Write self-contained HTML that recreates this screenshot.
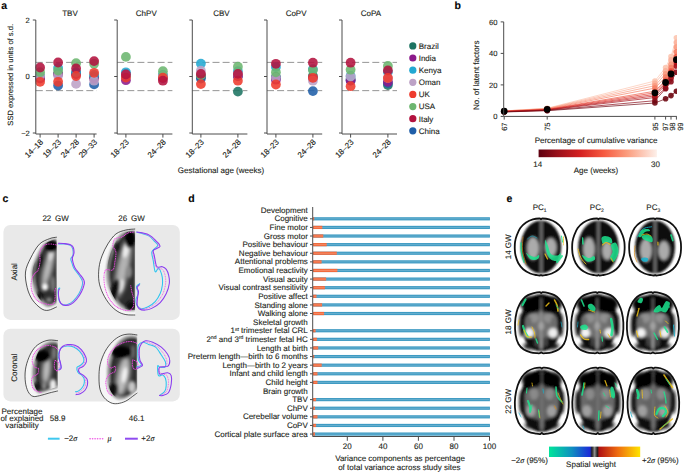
<!DOCTYPE html>
<html><head><meta charset="utf-8"><style>
html,body{margin:0;padding:0;background:#fff;width:685px;height:472px;overflow:hidden}
svg{display:block;font-family:"Liberation Sans", sans-serif;text-rendering:geometricPrecision}
text{stroke:#231f20;stroke-width:0.12px}
</style></head><body>
<svg width="685" height="472" viewBox="0 0 685 472">
<defs>
<clipPath id="clipb"><rect x="440" y="0" width="237" height="180"/></clipPath>
<linearGradient id="gradReds" x1="0" x2="1" y1="0" y2="0">
<stop offset="0" stop-color="#5e0010"/><stop offset="0.15" stop-color="#96101a"/><stop offset="0.35" stop-color="#d42020"/>
<stop offset="0.55" stop-color="#f65a40"/><stop offset="0.75" stop-color="#fb9d7e"/><stop offset="1" stop-color="#fdf0ea"/></linearGradient>
<linearGradient id="gradSW" x1="0" x2="1" y1="0" y2="0">
<stop offset="0" stop-color="#00e59a"/><stop offset="0.25" stop-color="#0f8fc0"/><stop offset="0.45" stop-color="#1c2ad8"/>
<stop offset="0.47" stop-color="#202020"/><stop offset="0.5" stop-color="#909090"/><stop offset="0.53" stop-color="#202020"/>
<stop offset="0.55" stop-color="#b01212"/><stop offset="0.75" stop-color="#ee6a10"/><stop offset="1" stop-color="#ffe400"/></linearGradient>
</defs>
<text x="1.2" y="8.8" font-size="10.5" text-anchor="start" font-weight="bold" fill="#000" >a</text>
<text x="70" y="15.5" font-size="8" text-anchor="middle" font-weight="normal" fill="#231f20" >TBV</text>
<line x1="35.8" y1="62.375" x2="96.6" y2="62.375" stroke="#8a8a8a" stroke-width="0.9" stroke-dasharray="7 3.1"/>
<line x1="35.8" y1="90.625" x2="96.6" y2="90.625" stroke="#8a8a8a" stroke-width="0.9" stroke-dasharray="7 3.1"/>
<circle cx="40.1" cy="78" r="4.9" fill="#1f5ea8" fill-opacity="0.88"/>
<circle cx="40.1" cy="77" r="4.9" fill="#1d7462" fill-opacity="0.88"/>
<circle cx="40.1" cy="76" r="4.9" fill="#22a8d2" fill-opacity="0.88"/>
<circle cx="40.1" cy="78.5" r="4.9" fill="#8b1a8b" fill-opacity="0.88"/>
<circle cx="40.1" cy="76" r="4.9" fill="#bda2c6" fill-opacity="0.88"/>
<circle cx="40.1" cy="72.2" r="4.9" fill="#6cb670" fill-opacity="0.88"/>
<circle cx="40.1" cy="81.8" r="4.9" fill="#ee3b2d" fill-opacity="0.88"/>
<circle cx="40.1" cy="67.5" r="4.9" fill="#b3123f" fill-opacity="0.88"/>
<circle cx="58.1" cy="85.5" r="4.9" fill="#1f5ea8" fill-opacity="0.88"/>
<circle cx="58.1" cy="74" r="4.9" fill="#1d7462" fill-opacity="0.88"/>
<circle cx="58.1" cy="74" r="4.9" fill="#8b1a8b" fill-opacity="0.88"/>
<circle cx="58.1" cy="68" r="4.9" fill="#22a8d2" fill-opacity="0.88"/>
<circle cx="58.1" cy="75.4" r="4.9" fill="#bda2c6" fill-opacity="0.88"/>
<circle cx="58.1" cy="70.6" r="4.9" fill="#6cb670" fill-opacity="0.88"/>
<circle cx="58.1" cy="81.8" r="4.9" fill="#ee3b2d" fill-opacity="0.88"/>
<circle cx="58.1" cy="62.5" r="4.9" fill="#b3123f" fill-opacity="0.88"/>
<circle cx="76.1" cy="74" r="4.9" fill="#1f5ea8" fill-opacity="0.88"/>
<circle cx="76.1" cy="73" r="4.9" fill="#1d7462" fill-opacity="0.88"/>
<circle cx="76.1" cy="74" r="4.9" fill="#8b1a8b" fill-opacity="0.88"/>
<circle cx="76.1" cy="72.2" r="4.9" fill="#22a8d2" fill-opacity="0.88"/>
<circle cx="76.1" cy="83.9" r="4.9" fill="#bda2c6" fill-opacity="0.88"/>
<circle cx="76.1" cy="63.2" r="4.9" fill="#6cb670" fill-opacity="0.88"/>
<circle cx="76.1" cy="68.5" r="4.9" fill="#b3123f" fill-opacity="0.88"/>
<circle cx="76.1" cy="76" r="4.9" fill="#ee3b2d" fill-opacity="0.88"/>
<circle cx="94.1" cy="84.4" r="4.9" fill="#1f5ea8" fill-opacity="0.88"/>
<circle cx="94.1" cy="77" r="4.9" fill="#1d7462" fill-opacity="0.88"/>
<circle cx="94.1" cy="78.6" r="4.9" fill="#8b1a8b" fill-opacity="0.88"/>
<circle cx="94.1" cy="74.9" r="4.9" fill="#22a8d2" fill-opacity="0.88"/>
<circle cx="94.1" cy="80.7" r="4.9" fill="#bda2c6" fill-opacity="0.88"/>
<circle cx="94.1" cy="63.8" r="4.9" fill="#6cb670" fill-opacity="0.88"/>
<circle cx="94.1" cy="72.8" r="4.9" fill="#ee3b2d" fill-opacity="0.88"/>
<circle cx="94.1" cy="61.1" r="4.9" fill="#b3123f" fill-opacity="0.88"/>
<path d="M35.8 20 V134 H96.6" fill="none" stroke="#4d4d4d" stroke-width="1"/>
<line x1="32.8" y1="20.0" x2="35.8" y2="20.0" stroke="#4d4d4d" stroke-width="1"/>
<line x1="32.8" y1="76.5" x2="35.8" y2="76.5" stroke="#4d4d4d" stroke-width="1"/>
<line x1="32.8" y1="133.0" x2="35.8" y2="133.0" stroke="#4d4d4d" stroke-width="1"/>
<line x1="40.1" y1="134" x2="40.1" y2="137.6" stroke="#4d4d4d" stroke-width="1"/>
<text transform="translate(43.7,142.6) rotate(-45)" font-size="8" text-anchor="end" fill="#231f20">14–18</text>
<line x1="58.1" y1="134" x2="58.1" y2="137.6" stroke="#4d4d4d" stroke-width="1"/>
<text transform="translate(61.7,142.6) rotate(-45)" font-size="8" text-anchor="end" fill="#231f20">19–23</text>
<line x1="76.1" y1="134" x2="76.1" y2="137.6" stroke="#4d4d4d" stroke-width="1"/>
<text transform="translate(79.69999999999999,142.6) rotate(-45)" font-size="8" text-anchor="end" fill="#231f20">24–28</text>
<line x1="94.1" y1="134" x2="94.1" y2="137.6" stroke="#4d4d4d" stroke-width="1"/>
<text transform="translate(97.69999999999999,142.6) rotate(-45)" font-size="8" text-anchor="end" fill="#231f20">29–33</text>
<text x="146.3" y="15.5" font-size="8" text-anchor="middle" font-weight="normal" fill="#231f20" >ChPV</text>
<line x1="117.2" y1="62.375" x2="172.4" y2="62.375" stroke="#8a8a8a" stroke-width="0.9" stroke-dasharray="7 3.1"/>
<line x1="117.2" y1="90.625" x2="172.4" y2="90.625" stroke="#8a8a8a" stroke-width="0.9" stroke-dasharray="7 3.1"/>
<circle cx="125.9" cy="74" r="4.9" fill="#1f5ea8" fill-opacity="0.88"/>
<circle cx="125.9" cy="76" r="4.9" fill="#1d7462" fill-opacity="0.88"/>
<circle cx="125.9" cy="80.2" r="4.9" fill="#8b1a8b" fill-opacity="0.88"/>
<circle cx="125.9" cy="72.3" r="4.9" fill="#22a8d2" fill-opacity="0.88"/>
<circle cx="125.9" cy="75" r="4.9" fill="#bda2c6" fill-opacity="0.88"/>
<circle cx="125.9" cy="56.9" r="4.9" fill="#6cb670" fill-opacity="0.88"/>
<circle cx="125.9" cy="77.6" r="4.9" fill="#ee3b2d" fill-opacity="0.88"/>
<circle cx="125.9" cy="74.5" r="4.9" fill="#b3123f" fill-opacity="0.88"/>
<circle cx="162.9" cy="76" r="4.9" fill="#1f5ea8" fill-opacity="0.88"/>
<circle cx="162.9" cy="77" r="4.9" fill="#1d7462" fill-opacity="0.88"/>
<circle cx="162.9" cy="78" r="4.9" fill="#8b1a8b" fill-opacity="0.88"/>
<circle cx="162.9" cy="74.9" r="4.9" fill="#22a8d2" fill-opacity="0.88"/>
<circle cx="162.9" cy="76" r="4.9" fill="#bda2c6" fill-opacity="0.88"/>
<circle cx="162.9" cy="71.2" r="4.9" fill="#6cb670" fill-opacity="0.88"/>
<circle cx="162.9" cy="77.6" r="4.9" fill="#ee3b2d" fill-opacity="0.88"/>
<circle cx="162.9" cy="80.7" r="4.9" fill="#b3123f" fill-opacity="0.88"/>
<path d="M117.2 20 V134 H172.4" fill="none" stroke="#4d4d4d" stroke-width="1"/>
<line x1="114.2" y1="20.0" x2="117.2" y2="20.0" stroke="#4d4d4d" stroke-width="1"/>
<line x1="114.2" y1="76.5" x2="117.2" y2="76.5" stroke="#4d4d4d" stroke-width="1"/>
<line x1="114.2" y1="133.0" x2="117.2" y2="133.0" stroke="#4d4d4d" stroke-width="1"/>
<line x1="125.9" y1="134" x2="125.9" y2="137.6" stroke="#4d4d4d" stroke-width="1"/>
<text transform="translate(129.5,142.6) rotate(-45)" font-size="8" text-anchor="end" fill="#231f20">18–23</text>
<line x1="162.9" y1="134" x2="162.9" y2="137.6" stroke="#4d4d4d" stroke-width="1"/>
<text transform="translate(166.5,142.6) rotate(-45)" font-size="8" text-anchor="end" fill="#231f20">24–28</text>
<text x="221.4" y="15.5" font-size="8" text-anchor="middle" font-weight="normal" fill="#231f20" >CBV</text>
<line x1="192.3" y1="62.375" x2="247.4" y2="62.375" stroke="#8a8a8a" stroke-width="0.9" stroke-dasharray="7 3.1"/>
<line x1="192.3" y1="90.625" x2="247.4" y2="90.625" stroke="#8a8a8a" stroke-width="0.9" stroke-dasharray="7 3.1"/>
<circle cx="200.9" cy="77" r="4.9" fill="#1d7462" fill-opacity="0.88"/>
<circle cx="200.9" cy="76" r="4.9" fill="#8b1a8b" fill-opacity="0.88"/>
<circle cx="200.9" cy="78.6" r="4.9" fill="#1f5ea8" fill-opacity="0.88"/>
<circle cx="200.9" cy="75.4" r="4.9" fill="#6cb670" fill-opacity="0.88"/>
<circle cx="200.9" cy="63.6" r="4.9" fill="#22a8d2" fill-opacity="0.88"/>
<circle cx="200.9" cy="70.7" r="4.9" fill="#bda2c6" fill-opacity="0.88"/>
<circle cx="200.9" cy="84.1" r="4.9" fill="#ee3b2d" fill-opacity="0.88"/>
<circle cx="200.9" cy="73.9" r="4.9" fill="#b3123f" fill-opacity="0.88"/>
<circle cx="237.9" cy="91.6" r="4.9" fill="#1d7462" fill-opacity="0.88"/>
<circle cx="237.9" cy="76" r="4.9" fill="#1f5ea8" fill-opacity="0.88"/>
<circle cx="237.9" cy="76" r="4.9" fill="#8b1a8b" fill-opacity="0.88"/>
<circle cx="237.9" cy="71.2" r="4.9" fill="#22a8d2" fill-opacity="0.88"/>
<circle cx="237.9" cy="74" r="4.9" fill="#bda2c6" fill-opacity="0.88"/>
<circle cx="237.9" cy="66.7" r="4.9" fill="#6cb670" fill-opacity="0.88"/>
<circle cx="237.9" cy="80.7" r="4.9" fill="#ee3b2d" fill-opacity="0.88"/>
<circle cx="237.9" cy="73.9" r="4.9" fill="#b3123f" fill-opacity="0.88"/>
<path d="M192.3 20 V134 H247.4" fill="none" stroke="#4d4d4d" stroke-width="1"/>
<line x1="189.3" y1="20.0" x2="192.3" y2="20.0" stroke="#4d4d4d" stroke-width="1"/>
<line x1="189.3" y1="76.5" x2="192.3" y2="76.5" stroke="#4d4d4d" stroke-width="1"/>
<line x1="189.3" y1="133.0" x2="192.3" y2="133.0" stroke="#4d4d4d" stroke-width="1"/>
<line x1="200.9" y1="134" x2="200.9" y2="137.6" stroke="#4d4d4d" stroke-width="1"/>
<text transform="translate(204.5,142.6) rotate(-45)" font-size="8" text-anchor="end" fill="#231f20">18–23</text>
<line x1="237.9" y1="134" x2="237.9" y2="137.6" stroke="#4d4d4d" stroke-width="1"/>
<text transform="translate(241.5,142.6) rotate(-45)" font-size="8" text-anchor="end" fill="#231f20">24–28</text>
<text x="296.1" y="15.5" font-size="8" text-anchor="middle" font-weight="normal" fill="#231f20" >CoPV</text>
<line x1="267.0" y1="62.375" x2="322.2" y2="62.375" stroke="#8a8a8a" stroke-width="0.9" stroke-dasharray="7 3.1"/>
<line x1="267.0" y1="90.625" x2="322.2" y2="90.625" stroke="#8a8a8a" stroke-width="0.9" stroke-dasharray="7 3.1"/>
<circle cx="275.9" cy="77" r="4.9" fill="#1d7462" fill-opacity="0.88"/>
<circle cx="275.9" cy="78" r="4.9" fill="#1f5ea8" fill-opacity="0.88"/>
<circle cx="275.9" cy="79.7" r="4.9" fill="#8b1a8b" fill-opacity="0.88"/>
<circle cx="275.9" cy="67" r="4.9" fill="#22a8d2" fill-opacity="0.88"/>
<circle cx="275.9" cy="77.6" r="4.9" fill="#bda2c6" fill-opacity="0.88"/>
<circle cx="275.9" cy="72.3" r="4.9" fill="#6cb670" fill-opacity="0.88"/>
<circle cx="275.9" cy="84.5" r="4.9" fill="#ee3b2d" fill-opacity="0.88"/>
<circle cx="275.9" cy="63.8" r="4.9" fill="#b3123f" fill-opacity="0.88"/>
<circle cx="312.9" cy="91.1" r="4.9" fill="#1f5ea8" fill-opacity="0.88"/>
<circle cx="312.9" cy="76" r="4.9" fill="#1d7462" fill-opacity="0.88"/>
<circle cx="312.9" cy="78" r="4.9" fill="#8b1a8b" fill-opacity="0.88"/>
<circle cx="312.9" cy="69.1" r="4.9" fill="#22a8d2" fill-opacity="0.88"/>
<circle cx="312.9" cy="80.7" r="4.9" fill="#bda2c6" fill-opacity="0.88"/>
<circle cx="312.9" cy="70.1" r="4.9" fill="#6cb670" fill-opacity="0.88"/>
<circle cx="312.9" cy="77.8" r="4.9" fill="#ee3b2d" fill-opacity="0.88"/>
<circle cx="312.9" cy="62.7" r="4.9" fill="#b3123f" fill-opacity="0.88"/>
<path d="M267.0 20 V134 H322.2" fill="none" stroke="#4d4d4d" stroke-width="1"/>
<line x1="264.0" y1="20.0" x2="267.0" y2="20.0" stroke="#4d4d4d" stroke-width="1"/>
<line x1="264.0" y1="76.5" x2="267.0" y2="76.5" stroke="#4d4d4d" stroke-width="1"/>
<line x1="264.0" y1="133.0" x2="267.0" y2="133.0" stroke="#4d4d4d" stroke-width="1"/>
<line x1="275.9" y1="134" x2="275.9" y2="137.6" stroke="#4d4d4d" stroke-width="1"/>
<text transform="translate(279.5,142.6) rotate(-45)" font-size="8" text-anchor="end" fill="#231f20">18–23</text>
<line x1="312.9" y1="134" x2="312.9" y2="137.6" stroke="#4d4d4d" stroke-width="1"/>
<text transform="translate(316.5,142.6) rotate(-45)" font-size="8" text-anchor="end" fill="#231f20">24–28</text>
<text x="371.0" y="15.5" font-size="8" text-anchor="middle" font-weight="normal" fill="#231f20" >CoPA</text>
<line x1="342.0" y1="62.375" x2="397.0" y2="62.375" stroke="#8a8a8a" stroke-width="0.9" stroke-dasharray="7 3.1"/>
<line x1="342.0" y1="90.625" x2="397.0" y2="90.625" stroke="#8a8a8a" stroke-width="0.9" stroke-dasharray="7 3.1"/>
<circle cx="350.6" cy="79" r="4.9" fill="#1d7462" fill-opacity="0.88"/>
<circle cx="350.6" cy="80.5" r="4.9" fill="#1f5ea8" fill-opacity="0.88"/>
<circle cx="350.6" cy="80.5" r="4.9" fill="#8b1a8b" fill-opacity="0.88"/>
<circle cx="350.6" cy="76" r="4.9" fill="#22a8d2" fill-opacity="0.88"/>
<circle cx="350.6" cy="76.5" r="4.9" fill="#bda2c6" fill-opacity="0.88"/>
<circle cx="350.6" cy="69.7" r="4.9" fill="#6cb670" fill-opacity="0.88"/>
<circle cx="350.6" cy="86.2" r="4.9" fill="#ee3b2d" fill-opacity="0.88"/>
<circle cx="350.6" cy="62.7" r="4.9" fill="#b3123f" fill-opacity="0.88"/>
<circle cx="387.9" cy="85" r="4.9" fill="#1d7462" fill-opacity="0.88"/>
<circle cx="387.9" cy="83" r="4.9" fill="#1f5ea8" fill-opacity="0.88"/>
<circle cx="387.9" cy="81.8" r="4.9" fill="#8b1a8b" fill-opacity="0.88"/>
<circle cx="387.9" cy="72" r="4.9" fill="#22a8d2" fill-opacity="0.88"/>
<circle cx="387.9" cy="78" r="4.9" fill="#bda2c6" fill-opacity="0.88"/>
<circle cx="387.9" cy="65.9" r="4.9" fill="#6cb670" fill-opacity="0.88"/>
<circle cx="387.9" cy="70.4" r="4.9" fill="#b3123f" fill-opacity="0.88"/>
<circle cx="387.9" cy="78" r="4.9" fill="#ee3b2d" fill-opacity="0.88"/>
<path d="M342.0 20 V134 H397.0" fill="none" stroke="#4d4d4d" stroke-width="1"/>
<line x1="339.0" y1="20.0" x2="342.0" y2="20.0" stroke="#4d4d4d" stroke-width="1"/>
<line x1="339.0" y1="76.5" x2="342.0" y2="76.5" stroke="#4d4d4d" stroke-width="1"/>
<line x1="339.0" y1="133.0" x2="342.0" y2="133.0" stroke="#4d4d4d" stroke-width="1"/>
<line x1="350.6" y1="134" x2="350.6" y2="137.6" stroke="#4d4d4d" stroke-width="1"/>
<text transform="translate(354.20000000000005,142.6) rotate(-45)" font-size="8" text-anchor="end" fill="#231f20">18–23</text>
<line x1="387.9" y1="134" x2="387.9" y2="137.6" stroke="#4d4d4d" stroke-width="1"/>
<text transform="translate(391.5,142.6) rotate(-45)" font-size="8" text-anchor="end" fill="#231f20">24–28</text>
<text x="29.8" y="23" font-size="7.6" text-anchor="end" font-weight="normal" fill="#231f20" >2</text>
<text x="29.8" y="79.3" font-size="7.6" text-anchor="end" font-weight="normal" fill="#231f20" >0</text>
<text x="29.8" y="135.8" font-size="7.6" text-anchor="end" font-weight="normal" fill="#231f20" >−2</text>
<text transform="translate(13.2,74.8) rotate(-90)" font-size="7.6" text-anchor="middle" fill="#231f20">SSD expressed in units of s.d.</text>
<text x="221" y="172.8" font-size="8" text-anchor="middle" font-weight="normal" fill="#231f20" >Gestational age (weeks)</text>
<circle cx="412.8" cy="45.9" r="3.6" fill="#1d7462"/>
<text x="418.7" y="48.7" font-size="8" text-anchor="start" font-weight="normal" fill="#231f20" >Brazil</text>
<circle cx="412.8" cy="58.0" r="3.6" fill="#8b1a8b"/>
<text x="418.7" y="60.8" font-size="8" text-anchor="start" font-weight="normal" fill="#231f20" >India</text>
<circle cx="412.8" cy="70.2" r="3.6" fill="#22a8d2"/>
<text x="418.7" y="73.0" font-size="8" text-anchor="start" font-weight="normal" fill="#231f20" >Kenya</text>
<circle cx="412.8" cy="82.3" r="3.6" fill="#bda2c6"/>
<text x="418.7" y="85.1" font-size="8" text-anchor="start" font-weight="normal" fill="#231f20" >Oman</text>
<circle cx="412.8" cy="94.4" r="3.6" fill="#ee3b2d"/>
<text x="418.7" y="97.2" font-size="8" text-anchor="start" font-weight="normal" fill="#231f20" >UK</text>
<circle cx="412.8" cy="106.6" r="3.6" fill="#6cb670"/>
<text x="418.7" y="109.4" font-size="8" text-anchor="start" font-weight="normal" fill="#231f20" >USA</text>
<circle cx="412.8" cy="118.7" r="3.6" fill="#b3123f"/>
<text x="418.7" y="121.5" font-size="8" text-anchor="start" font-weight="normal" fill="#231f20" >Italy</text>
<circle cx="412.8" cy="130.8" r="3.6" fill="#1f5ea8"/>
<text x="418.7" y="133.6" font-size="8" text-anchor="start" font-weight="normal" fill="#231f20" >China</text>
<text x="454.6" y="8.7" font-size="10.5" text-anchor="start" font-weight="bold" fill="#000" >b</text>
<g clip-path="url(#clipb)">
<polyline points="504.2,110.9 547.2,108.2 654.9,81.0 665.6,67.6 671.0,56.6 676.4,37.7" fill="none" stroke="#fcc5b0" stroke-width="0.7"/>
<polyline points="504.2,111.0 547.2,108.5 654.9,83.3 665.6,70.7 671.0,59.7 676.4,42.4" fill="none" stroke="#fbb09a" stroke-width="0.7"/>
<polyline points="504.2,111.0 547.2,108.7 654.9,85.7 665.6,73.9 671.0,64.4 676.4,47.1" fill="none" stroke="#f99a80" stroke-width="0.7"/>
<polyline points="504.2,111.2 547.2,109.0 654.9,88.1 665.6,77.0 671.0,67.6 676.4,51.8" fill="none" stroke="#f57f65" stroke-width="0.7"/>
<polyline points="504.2,111.4 547.2,109.3 654.9,91.2 665.6,80.2 671.0,70.7 676.4,56.6" fill="none" stroke="#ee5a45" stroke-width="0.7"/>
<polyline points="504.2,111.4 547.2,109.5 654.9,92.8 665.6,81.8 671.0,72.3 676.4,59.7" fill="none" stroke="#e43b2f" stroke-width="0.7"/>
<polyline points="504.2,111.5 547.2,109.8 654.9,94.4 665.6,83.3 671.0,73.9 676.4,61.3" fill="none" stroke="#d42a24" stroke-width="0.7"/>
<polyline points="504.2,111.5 547.2,109.9 654.9,95.9 665.6,84.9 671.0,75.5 676.4,62.9" fill="none" stroke="#c01c1f" stroke-width="0.7"/>
<polyline points="504.2,111.7 547.2,110.1 654.9,97.5 665.6,88.1 671.0,78.6 676.4,66.0" fill="none" stroke="#a8121a" stroke-width="0.7"/>
<polyline points="504.2,111.8 547.2,110.4 654.9,100.7 665.6,88.8 671.0,81.8 676.4,72.3" fill="none" stroke="#8a0b18" stroke-width="0.7"/>
<polyline points="504.2,112.0 547.2,110.7 654.9,103.0 665.6,98.8 671.0,95.6 676.4,91.2" fill="none" stroke="#6e0812" stroke-width="0.7"/>
<circle cx="504.2" cy="110.9" r="2.8" fill="#fcc5b0" fill-opacity="0.9"/>
<circle cx="547.2" cy="108.2" r="2.8" fill="#fcc5b0" fill-opacity="0.9"/>
<circle cx="654.9" cy="81.0" r="2.8" fill="#fcc5b0" fill-opacity="0.9"/>
<circle cx="665.6" cy="67.6" r="2.8" fill="#fcc5b0" fill-opacity="0.9"/>
<circle cx="671.0" cy="56.6" r="2.8" fill="#fcc5b0" fill-opacity="0.9"/>
<circle cx="676.4" cy="37.7" r="2.8" fill="#fcc5b0" fill-opacity="0.9"/>
<circle cx="504.2" cy="111.0" r="2.8" fill="#fbb09a" fill-opacity="0.9"/>
<circle cx="547.2" cy="108.5" r="2.8" fill="#fbb09a" fill-opacity="0.9"/>
<circle cx="654.9" cy="83.3" r="2.8" fill="#fbb09a" fill-opacity="0.9"/>
<circle cx="665.6" cy="70.7" r="2.8" fill="#fbb09a" fill-opacity="0.9"/>
<circle cx="671.0" cy="59.7" r="2.8" fill="#fbb09a" fill-opacity="0.9"/>
<circle cx="676.4" cy="42.4" r="2.8" fill="#fbb09a" fill-opacity="0.9"/>
<circle cx="504.2" cy="111.0" r="2.8" fill="#f99a80" fill-opacity="0.9"/>
<circle cx="547.2" cy="108.7" r="2.8" fill="#f99a80" fill-opacity="0.9"/>
<circle cx="654.9" cy="85.7" r="2.8" fill="#f99a80" fill-opacity="0.9"/>
<circle cx="665.6" cy="73.9" r="2.8" fill="#f99a80" fill-opacity="0.9"/>
<circle cx="671.0" cy="64.4" r="2.8" fill="#f99a80" fill-opacity="0.9"/>
<circle cx="676.4" cy="47.1" r="2.8" fill="#f99a80" fill-opacity="0.9"/>
<circle cx="504.2" cy="111.2" r="2.8" fill="#f57f65" fill-opacity="0.9"/>
<circle cx="547.2" cy="109.0" r="2.8" fill="#f57f65" fill-opacity="0.9"/>
<circle cx="654.9" cy="88.1" r="2.8" fill="#f57f65" fill-opacity="0.9"/>
<circle cx="665.6" cy="77.0" r="2.8" fill="#f57f65" fill-opacity="0.9"/>
<circle cx="671.0" cy="67.6" r="2.8" fill="#f57f65" fill-opacity="0.9"/>
<circle cx="676.4" cy="51.8" r="2.8" fill="#f57f65" fill-opacity="0.9"/>
<circle cx="504.2" cy="111.4" r="2.8" fill="#ee5a45" fill-opacity="0.9"/>
<circle cx="547.2" cy="109.3" r="2.8" fill="#ee5a45" fill-opacity="0.9"/>
<circle cx="654.9" cy="91.2" r="2.8" fill="#ee5a45" fill-opacity="0.9"/>
<circle cx="665.6" cy="80.2" r="2.8" fill="#ee5a45" fill-opacity="0.9"/>
<circle cx="671.0" cy="70.7" r="2.8" fill="#ee5a45" fill-opacity="0.9"/>
<circle cx="676.4" cy="56.6" r="2.8" fill="#ee5a45" fill-opacity="0.9"/>
<circle cx="504.2" cy="111.4" r="2.8" fill="#e43b2f" fill-opacity="0.9"/>
<circle cx="547.2" cy="109.5" r="2.8" fill="#e43b2f" fill-opacity="0.9"/>
<circle cx="654.9" cy="92.8" r="2.8" fill="#e43b2f" fill-opacity="0.9"/>
<circle cx="665.6" cy="81.8" r="2.8" fill="#e43b2f" fill-opacity="0.9"/>
<circle cx="671.0" cy="72.3" r="2.8" fill="#e43b2f" fill-opacity="0.9"/>
<circle cx="676.4" cy="59.7" r="2.8" fill="#e43b2f" fill-opacity="0.9"/>
<circle cx="504.2" cy="111.5" r="2.8" fill="#d42a24" fill-opacity="0.9"/>
<circle cx="547.2" cy="109.8" r="2.8" fill="#d42a24" fill-opacity="0.9"/>
<circle cx="654.9" cy="94.4" r="2.8" fill="#d42a24" fill-opacity="0.9"/>
<circle cx="665.6" cy="83.3" r="2.8" fill="#d42a24" fill-opacity="0.9"/>
<circle cx="671.0" cy="73.9" r="2.8" fill="#d42a24" fill-opacity="0.9"/>
<circle cx="676.4" cy="61.3" r="2.8" fill="#d42a24" fill-opacity="0.9"/>
<circle cx="504.2" cy="111.5" r="2.8" fill="#c01c1f" fill-opacity="0.9"/>
<circle cx="547.2" cy="109.9" r="2.8" fill="#c01c1f" fill-opacity="0.9"/>
<circle cx="654.9" cy="95.9" r="2.8" fill="#c01c1f" fill-opacity="0.9"/>
<circle cx="665.6" cy="84.9" r="2.8" fill="#c01c1f" fill-opacity="0.9"/>
<circle cx="671.0" cy="75.5" r="2.8" fill="#c01c1f" fill-opacity="0.9"/>
<circle cx="676.4" cy="62.9" r="2.8" fill="#c01c1f" fill-opacity="0.9"/>
<circle cx="504.2" cy="111.7" r="2.8" fill="#a8121a" fill-opacity="0.9"/>
<circle cx="547.2" cy="110.1" r="2.8" fill="#a8121a" fill-opacity="0.9"/>
<circle cx="654.9" cy="97.5" r="2.8" fill="#a8121a" fill-opacity="0.9"/>
<circle cx="665.6" cy="88.1" r="2.8" fill="#a8121a" fill-opacity="0.9"/>
<circle cx="671.0" cy="78.6" r="2.8" fill="#a8121a" fill-opacity="0.9"/>
<circle cx="676.4" cy="66.0" r="2.8" fill="#a8121a" fill-opacity="0.9"/>
<circle cx="504.2" cy="111.8" r="2.8" fill="#8a0b18" fill-opacity="0.9"/>
<circle cx="547.2" cy="110.4" r="2.8" fill="#8a0b18" fill-opacity="0.9"/>
<circle cx="654.9" cy="100.7" r="2.8" fill="#8a0b18" fill-opacity="0.9"/>
<circle cx="665.6" cy="88.8" r="2.8" fill="#8a0b18" fill-opacity="0.9"/>
<circle cx="671.0" cy="81.8" r="2.8" fill="#8a0b18" fill-opacity="0.9"/>
<circle cx="676.4" cy="72.3" r="2.8" fill="#8a0b18" fill-opacity="0.9"/>
<circle cx="504.2" cy="112.0" r="2.8" fill="#6e0812" fill-opacity="0.9"/>
<circle cx="547.2" cy="110.7" r="2.8" fill="#6e0812" fill-opacity="0.9"/>
<circle cx="654.9" cy="103.0" r="2.8" fill="#6e0812" fill-opacity="0.9"/>
<circle cx="665.6" cy="98.8" r="2.8" fill="#6e0812" fill-opacity="0.9"/>
<circle cx="671.0" cy="95.6" r="2.8" fill="#6e0812" fill-opacity="0.9"/>
<circle cx="676.4" cy="91.2" r="2.8" fill="#6e0812" fill-opacity="0.9"/>
<circle cx="504.2" cy="111.2" r="3.4" fill="#000"/>
<circle cx="547.2" cy="109.3" r="3.4" fill="#000"/>
<circle cx="654.9" cy="92.8" r="3.4" fill="#000"/>
<circle cx="665.6" cy="82.5" r="3.4" fill="#000"/>
<circle cx="671.0" cy="73.9" r="3.4" fill="#000"/>
<circle cx="676.4" cy="59.7" r="3.4" fill="#000"/>
</g>
<path d="M503.7 21.9 V116.4 H676.8" fill="none" stroke="#4d4d4d" stroke-width="1"/>
<line x1="500.7" y1="116.4" x2="503.7" y2="116.4" stroke="#4d4d4d" stroke-width="1"/>
<text x="497.5" y="119.2" font-size="7.6" text-anchor="end" font-weight="normal" fill="#231f20" >0</text>
<line x1="500.7" y1="84.9" x2="503.7" y2="84.9" stroke="#4d4d4d" stroke-width="1"/>
<text x="497.5" y="87.7" font-size="7.6" text-anchor="end" font-weight="normal" fill="#231f20" >20</text>
<line x1="500.7" y1="53.4" x2="503.7" y2="53.4" stroke="#4d4d4d" stroke-width="1"/>
<text x="497.5" y="56.2" font-size="7.6" text-anchor="end" font-weight="normal" fill="#231f20" >40</text>
<line x1="500.7" y1="21.9" x2="503.7" y2="21.9" stroke="#4d4d4d" stroke-width="1"/>
<text x="497.5" y="24.7" font-size="7.6" text-anchor="end" font-weight="normal" fill="#231f20" >60</text>
<line x1="504.2" y1="116.4" x2="504.2" y2="119.6" stroke="#4d4d4d" stroke-width="1"/>
<text transform="translate(506.9,122.5) rotate(-90)" font-size="7.5" text-anchor="end" fill="#231f20">67</text>
<line x1="547.2" y1="116.4" x2="547.2" y2="119.6" stroke="#4d4d4d" stroke-width="1"/>
<text transform="translate(549.9,122.5) rotate(-90)" font-size="7.5" text-anchor="end" fill="#231f20">75</text>
<line x1="654.9" y1="116.4" x2="654.9" y2="119.6" stroke="#4d4d4d" stroke-width="1"/>
<text transform="translate(657.9,122.5) rotate(-90)" font-size="7.5" text-anchor="end" fill="#231f20">95</text>
<line x1="665.6" y1="116.4" x2="665.6" y2="119.6" stroke="#4d4d4d" stroke-width="1"/>
<text transform="translate(667.9,122.5) rotate(-90)" font-size="7.5" text-anchor="end" fill="#231f20">97</text>
<line x1="671.0" y1="116.4" x2="671.0" y2="119.6" stroke="#4d4d4d" stroke-width="1"/>
<text transform="translate(674.9,122.5) rotate(-90)" font-size="7.5" text-anchor="end" fill="#231f20">98</text>
<line x1="676.4" y1="116.4" x2="676.4" y2="119.6" stroke="#4d4d4d" stroke-width="1"/>
<text transform="translate(683.1,122.5) rotate(-90)" font-size="7.5" text-anchor="end" fill="#231f20">99</text>
<text transform="translate(478.7,75.3) rotate(-90)" font-size="8" text-anchor="middle" fill="#231f20">No. of latent factors</text>
<text x="596" y="143" font-size="8" text-anchor="middle" font-weight="normal" fill="#231f20" >Percentage of cumulative variance</text>
<rect x="538.6" y="149.5" width="118.3" height="7.7" fill="url(#gradReds)"/>
<text x="537.8" y="166.6" font-size="8" text-anchor="middle" font-weight="normal" fill="#231f20" >14</text>
<text x="655.5" y="166.6" font-size="8" text-anchor="middle" font-weight="normal" fill="#231f20" >30</text>
<text x="596" y="172.7" font-size="8" text-anchor="middle" font-weight="normal" fill="#231f20" >Age (weeks)</text>
<text x="2.6" y="201.9" font-size="10.5" text-anchor="start" font-weight="bold" fill="#000" >c</text>
<text x="55.6" y="220.9" font-size="8" text-anchor="middle" font-weight="normal" fill="#231f20" word-spacing="1.5">22 GW</text>
<text x="131.5" y="220.9" font-size="8" text-anchor="middle" font-weight="normal" fill="#231f20" word-spacing="1.5">26 GW</text>
<rect x="3.4" y="224.9" width="176.4" height="95" rx="7" fill="#e9e9e9"/>
<rect x="3.4" y="328.8" width="176.4" height="72.6" rx="7" fill="#e9e9e9"/>
<text transform="translate(17,271.8) rotate(-90)" font-size="8" text-anchor="middle" fill="#231f20">Axial</text>
<text transform="translate(17,367.7) rotate(-90)" font-size="8" text-anchor="middle" fill="#231f20">Coronal</text>
<defs><filter id="bl1" x="-50%" y="-50%" width="200%" height="200%"><feGaussianBlur stdDeviation="1.2"/></filter><filter id="bl2" x="-50%" y="-50%" width="200%" height="200%"><feGaussianBlur stdDeviation="2"/></filter><filter id="bl09" x="-50%" y="-50%" width="200%" height="200%"><feGaussianBlur stdDeviation="0.9"/></filter><filter id="bl05" x="-50%" y="-50%" width="200%" height="200%"><feGaussianBlur stdDeviation="0.6"/></filter></defs>
<clipPath id="hb1"><path d="M56.80,237.20 C55.63,237.43 52.70,237.43 49.80,238.60 C46.90,239.77 42.58,240.97 39.40,244.20 C36.22,247.43 33.02,253.37 30.70,258.00 C28.38,262.63 26.08,267.05 25.50,272.00 C24.92,276.95 26.05,283.07 27.20,287.70 C28.35,292.33 30.08,296.33 32.40,299.80 C34.72,303.27 38.48,306.75 41.10,308.50 C43.72,310.25 45.48,310.58 48.10,310.30 C50.72,310.02 55.35,307.38 56.80,306.80Z"/></clipPath>
<g clip-path="url(#hb1)">
<rect x="0" y="200" width="200" height="220" fill="#f6f6f6"/>
<g filter="url(#bl09)"><path d="M56.80,237.20 C55.63,237.43 52.70,237.43 49.80,238.60 C46.90,239.77 42.58,240.97 39.40,244.20 C36.22,247.43 33.02,253.37 30.70,258.00 C28.38,262.63 26.08,267.05 25.50,272.00 C24.92,276.95 26.05,283.07 27.20,287.70 C28.35,292.33 30.08,296.33 32.40,299.80 C34.72,303.27 38.48,306.75 41.10,308.50 C43.72,310.25 45.48,310.58 48.10,310.30 C50.72,310.02 55.35,307.38 56.80,306.80Z" fill="#9a9a9a" transform="translate(56.80,272.55) scale(0.8083,0.9398) translate(-56.80,-273.75)"/>
<path d="M56.80,237.20 C55.63,237.43 52.70,237.43 49.80,238.60 C46.90,239.77 42.58,240.97 39.40,244.20 C36.22,247.43 33.02,253.37 30.70,258.00 C28.38,262.63 26.08,267.05 25.50,272.00 C24.92,276.95 26.05,283.07 27.20,287.70 C28.35,292.33 30.08,296.33 32.40,299.80 C34.72,303.27 38.48,306.75 41.10,308.50 C43.72,310.25 45.48,310.58 48.10,310.30 C50.72,310.02 55.35,307.38 56.80,306.80Z" fill="#2e2e2e" transform="translate(56.80,272.55) scale(0.7125,0.8714) translate(-56.80,-273.75)"/>
</g>
<clipPath id="hb1i"><path d="M56.80,237.20 C55.63,237.43 52.70,237.43 49.80,238.60 C46.90,239.77 42.58,240.97 39.40,244.20 C36.22,247.43 33.02,253.37 30.70,258.00 C28.38,262.63 26.08,267.05 25.50,272.00 C24.92,276.95 26.05,283.07 27.20,287.70 C28.35,292.33 30.08,296.33 32.40,299.80 C34.72,303.27 38.48,306.75 41.10,308.50 C43.72,310.25 45.48,310.58 48.10,310.30 C50.72,310.02 55.35,307.38 56.80,306.80Z" transform="translate(56.80,272.55) scale(0.7764,0.9124) translate(-56.80,-273.75)"/></clipPath>
<g clip-path="url(#hb1i)"><g filter="url(#bl09)">
<ellipse cx="48" cy="268" rx="4.5" ry="20" fill="#bcbcbc" filter="url(#bl2)" transform="rotate(14 48 268)"/>
<ellipse cx="45" cy="287" rx="3.2" ry="3.6" fill="#ffffff" filter="url(#bl1)" transform="rotate(0 45 287)"/>
<ellipse cx="51" cy="254" rx="2.6" ry="7" fill="#dcdcdc" filter="url(#bl1)" transform="rotate(10 51 254)"/>
<ellipse cx="33" cy="274" rx="2" ry="13" fill="#5c5c5c" filter="url(#bl1)" transform="rotate(8 33 274)"/>
<ellipse cx="53" cy="284" rx="2.5" ry="8" fill="#7a7a7a" filter="url(#bl1)" transform="rotate(0 53 284)"/>
<ellipse cx="49" cy="300" rx="3" ry="2.5" fill="#8a8a8a" filter="url(#bl1)" transform="rotate(0 49 300)"/>
<ellipse cx="51" cy="246" rx="6" ry="6" fill="#050505" filter="url(#bl1)" transform="rotate(0 51 246)"/>
<ellipse cx="39" cy="297" rx="3" ry="6" fill="#101010" filter="url(#bl1)" transform="rotate(20 39 297)"/>
<ellipse cx="41" cy="262" rx="2.2" ry="7" fill="#121212" filter="url(#bl1)" transform="rotate(10 41 262)"/>
</g></g></g>
<path d="M56.80,237.20 C55.63,237.43 52.70,237.43 49.80,238.60 C46.90,239.77 42.58,240.97 39.40,244.20 C36.22,247.43 33.02,253.37 30.70,258.00 C28.38,262.63 26.08,267.05 25.50,272.00 C24.92,276.95 26.05,283.07 27.20,287.70 C28.35,292.33 30.08,296.33 32.40,299.80 C34.72,303.27 38.48,306.75 41.10,308.50 C43.72,310.25 45.48,310.58 48.10,310.30 C50.72,310.02 55.35,307.38 56.80,306.80" fill="none" stroke="#111" stroke-width="0.7"/>
<path d="M56.80,245.00 C55.67,244.83 52.13,243.92 50.00,244.00 C47.87,244.08 45.67,244.17 44.00,245.50 C42.33,246.83 40.67,249.25 40.00,252.00 C39.33,254.75 40.33,259.00 40.00,262.00 C39.67,265.00 39.17,267.67 38.00,270.00 C36.83,272.33 34.17,273.50 33.00,276.00 C31.83,278.50 31.00,282.00 31.00,285.00 C31.00,288.00 31.83,291.33 33.00,294.00 C34.17,296.67 35.83,299.33 38.00,301.00 C40.17,302.67 43.50,303.50 46.00,304.00 C48.50,304.50 51.50,305.00 53.00,304.00 C54.50,303.00 54.67,300.33 55.00,298.00 C55.33,295.67 54.70,291.67 55.00,290.00 C55.30,288.33 56.50,288.33 56.80,288.00" fill="none" stroke="#f044e6" stroke-width="1.05" stroke-linecap="round" stroke-dasharray="0.2 1.5"/>
<path d="M58.20,244.00 C59.35,244.00 63.00,243.73 65.10,244.00 C67.20,244.27 69.50,244.65 70.80,245.60 C72.10,246.55 72.55,248.07 72.90,249.70 C73.25,251.33 73.25,253.90 72.90,255.40 C72.55,256.90 70.97,257.47 70.80,258.70 C70.63,259.93 71.37,261.17 71.90,262.80 C72.43,264.43 72.83,266.47 74.00,268.50 C75.17,270.53 77.53,272.97 78.90,275.00 C80.27,277.03 81.65,278.93 82.20,280.70 C82.75,282.47 82.75,283.42 82.20,285.60 C81.65,287.78 80.40,291.22 78.90,293.80 C77.40,296.38 75.10,299.33 73.20,301.10 C71.30,302.87 69.27,303.85 67.50,304.40 C65.73,304.95 63.97,304.95 62.60,304.40 C61.23,303.85 60.03,302.87 59.30,301.10 C58.57,299.33 58.33,295.83 58.20,293.80 C58.07,291.77 58.17,289.85 58.50,288.90 C58.83,287.95 59.92,288.23 60.20,288.10" fill="none" stroke="#2cc4ef" stroke-width="1.05"/>
<polyline points="58.20,243.60 59.54,243.64 60.89,243.68 62.23,243.72 63.57,243.77 64.91,243.87 66.23,244.12 67.54,244.40 68.85,244.68 70.13,245.04 71.16,245.82 71.98,246.85 72.74,247.91 73.14,249.18 73.25,250.51 73.34,251.85 73.43,253.19 73.28,254.50 72.83,255.75 72.26,256.95 71.70,258.16 71.81,259.46 72.07,260.77 72.33,262.09 72.76,263.36 73.21,264.63 73.66,265.90 74.11,267.16 74.66,268.38 75.47,269.45 76.28,270.52 77.09,271.60 77.90,272.67 78.71,273.75 79.51,274.83 80.24,275.95 80.96,277.09 81.68,278.22 82.41,279.35 83.02,280.52 83.11,281.86 83.19,283.20 83.18,284.53 82.88,285.82 82.40,287.08 81.92,288.33 81.44,289.59 80.97,290.85 80.49,292.10 79.87,293.29 79.14,294.41 78.36,295.50 77.57,296.59 76.79,297.68 76.00,298.77 75.16,299.81 74.23,300.78 73.19,301.61 72.10,302.39 71.01,303.16 69.92,303.94 68.69,304.44 67.38,304.64 66.05,304.77 64.72,304.90 63.44,304.73 62.35,303.97 61.26,303.21 60.26,302.37 59.76,301.16 59.39,299.88 59.02,298.60 58.73,297.30 58.59,295.96 58.46,294.63 58.46,293.28 58.46,291.94 58.55,290.61 58.98,289.44 59.75,288.50" fill="none" stroke="#f060e0" stroke-width="0.9" stroke-linecap="round" stroke-dasharray="0.2 1.5"/>
<path d="M58.20,243.20 C59.07,243.25 61.43,243.28 63.40,243.50 C65.37,243.72 68.37,243.88 70.00,244.50 C71.63,245.12 72.53,245.78 73.20,247.20 C73.87,248.62 74.13,251.22 74.00,253.00 C73.87,254.78 72.58,256.42 72.40,257.90 C72.22,259.38 72.48,260.27 72.90,261.90 C73.32,263.53 73.75,265.65 74.90,267.70 C76.05,269.75 78.32,272.17 79.80,274.20 C81.28,276.23 83.05,278.27 83.80,279.90 C84.55,281.53 84.70,281.97 84.30,284.00 C83.90,286.03 82.70,289.52 81.40,292.10 C80.10,294.68 78.27,297.45 76.50,299.50 C74.73,301.55 72.70,303.40 70.80,304.40 C68.90,305.40 66.73,305.63 65.10,305.50 C63.47,305.37 62.03,304.73 61.00,303.60 C59.97,302.47 59.32,300.62 58.90,298.70 C58.48,296.78 58.43,293.73 58.50,292.10 C58.57,290.47 59.17,289.43 59.30,288.90" fill="none" stroke="#8a3cf0" stroke-width="1.05"/>
<clipPath id="hb2"><path d="M135.20,229.00 C133.65,229.17 129.12,229.17 125.90,230.00 C122.68,230.83 118.90,231.68 115.90,234.00 C112.90,236.32 110.22,240.25 107.90,243.90 C105.58,247.55 103.48,251.92 102.00,255.90 C100.52,259.88 99.50,263.50 99.00,267.80 C98.50,272.10 98.33,277.38 99.00,281.70 C99.67,286.02 101.18,289.88 103.00,293.70 C104.82,297.52 107.42,301.62 109.90,304.60 C112.38,307.58 115.23,309.93 117.90,311.60 C120.57,313.27 123.02,314.03 125.90,314.60 C128.78,315.17 133.65,314.93 135.20,315.00Z"/></clipPath>
<g clip-path="url(#hb2)">
<rect x="0" y="200" width="200" height="220" fill="#f6f6f6"/>
<g filter="url(#bl09)"><path d="M135.20,229.00 C133.65,229.17 129.12,229.17 125.90,230.00 C122.68,230.83 118.90,231.68 115.90,234.00 C112.90,236.32 110.22,240.25 107.90,243.90 C105.58,247.55 103.48,251.92 102.00,255.90 C100.52,259.88 99.50,263.50 99.00,267.80 C98.50,272.10 98.33,277.38 99.00,281.70 C99.67,286.02 101.18,289.88 103.00,293.70 C104.82,297.52 107.42,301.62 109.90,304.60 C112.38,307.58 115.23,309.93 117.90,311.60 C120.57,313.27 123.02,314.03 125.90,314.60 C128.78,315.17 133.65,314.93 135.20,315.00Z" fill="#9a9a9a" transform="translate(135.20,270.50) scale(0.7928,0.9442) translate(-135.20,-272.00)"/>
<path d="M135.20,229.00 C133.65,229.17 129.12,229.17 125.90,230.00 C122.68,230.83 118.90,231.68 115.90,234.00 C112.90,236.32 110.22,240.25 107.90,243.90 C105.58,247.55 103.48,251.92 102.00,255.90 C100.52,259.88 99.50,263.50 99.00,267.80 C98.50,272.10 98.33,277.38 99.00,281.70 C99.67,286.02 101.18,289.88 103.00,293.70 C104.82,297.52 107.42,301.62 109.90,304.60 C112.38,307.58 115.23,309.93 117.90,311.60 C120.57,313.27 123.02,314.03 125.90,314.60 C128.78,315.17 133.65,314.93 135.20,315.00Z" fill="#2e2e2e" transform="translate(135.20,270.50) scale(0.7099,0.8860) translate(-135.20,-272.00)"/>
</g>
<clipPath id="hb2i"><path d="M135.20,229.00 C133.65,229.17 129.12,229.17 125.90,230.00 C122.68,230.83 118.90,231.68 115.90,234.00 C112.90,236.32 110.22,240.25 107.90,243.90 C105.58,247.55 103.48,251.92 102.00,255.90 C100.52,259.88 99.50,263.50 99.00,267.80 C98.50,272.10 98.33,277.38 99.00,281.70 C99.67,286.02 101.18,289.88 103.00,293.70 C104.82,297.52 107.42,301.62 109.90,304.60 C112.38,307.58 115.23,309.93 117.90,311.60 C120.57,313.27 123.02,314.03 125.90,314.60 C128.78,315.17 133.65,314.93 135.20,315.00Z" transform="translate(135.20,270.50) scale(0.7652,0.9209) translate(-135.20,-272.00)"/></clipPath>
<g clip-path="url(#hb2i)"><g filter="url(#bl09)">
<ellipse cx="123" cy="268" rx="6" ry="31" fill="#b4b4b4" filter="url(#bl2)" transform="rotate(12 123 268)"/>
<ellipse cx="126" cy="250" rx="3" ry="8" fill="#eeeeee" filter="url(#bl1)" transform="rotate(12 126 250)"/>
<ellipse cx="121" cy="286" rx="3" ry="7" fill="#e4e4e4" filter="url(#bl1)" transform="rotate(12 121 286)"/>
<ellipse cx="129" cy="272" rx="3" ry="6" fill="#8a8a8a" filter="url(#bl1)" transform="rotate(0 129 272)"/>
<ellipse cx="109" cy="258" rx="2.2" ry="14" fill="#5a5a5a" filter="url(#bl1)" transform="rotate(10 109 258)"/>
<ellipse cx="130" cy="239" rx="5" ry="9" fill="#040404" filter="url(#bl1)" transform="rotate(0 130 239)"/>
<ellipse cx="114" cy="292" rx="4" ry="13" fill="#080808" filter="url(#bl1)" transform="rotate(15 114 292)"/>
<ellipse cx="131" cy="306" rx="5" ry="5" fill="#0c0c0c" filter="url(#bl1)" transform="rotate(0 131 306)"/>
<ellipse cx="117" cy="247" rx="3" ry="5" fill="#141414" filter="url(#bl1)" transform="rotate(0 117 247)"/>
</g></g></g>
<path d="M135.20,229.00 C133.65,229.17 129.12,229.17 125.90,230.00 C122.68,230.83 118.90,231.68 115.90,234.00 C112.90,236.32 110.22,240.25 107.90,243.90 C105.58,247.55 103.48,251.92 102.00,255.90 C100.52,259.88 99.50,263.50 99.00,267.80 C98.50,272.10 98.33,277.38 99.00,281.70 C99.67,286.02 101.18,289.88 103.00,293.70 C104.82,297.52 107.42,301.62 109.90,304.60 C112.38,307.58 115.23,309.93 117.90,311.60 C120.57,313.27 123.02,314.03 125.90,314.60 C128.78,315.17 133.65,314.93 135.20,315.00" fill="none" stroke="#111" stroke-width="0.7"/>
<path d="M133.80,232.00 C132.82,232.17 129.88,232.17 127.90,233.00 C125.92,233.83 124.07,236.02 121.90,237.00 C119.73,237.98 116.40,237.42 114.90,238.90 C113.40,240.38 112.73,243.73 112.90,245.90 C113.07,248.07 115.57,249.25 115.90,251.90 C116.23,254.55 115.40,258.82 114.90,261.80 C114.40,264.78 114.38,268.47 112.90,269.80 C111.42,271.13 107.48,268.80 106.00,269.80 C104.52,270.80 104.17,272.82 104.00,275.80 C103.83,278.78 104.02,283.72 105.00,287.70 C105.98,291.68 107.75,296.38 109.90,299.70 C112.05,303.02 114.90,305.78 117.90,307.60 C120.90,309.42 125.42,310.60 127.90,310.60 C130.38,310.60 131.82,309.42 132.80,307.60 C133.78,305.78 133.97,302.35 133.80,299.70 C133.63,297.05 132.30,294.03 131.80,291.70 C131.30,289.37 130.97,286.70 130.80,285.70" fill="none" stroke="#f044e6" stroke-width="1.05" stroke-linecap="round" stroke-dasharray="0.2 1.5"/>
<path d="M136.00,232.10 C137.02,232.33 139.90,232.83 142.10,233.50 C144.30,234.17 147.18,234.83 149.20,236.10 C151.22,237.37 152.77,239.58 154.20,241.10 C155.63,242.62 157.63,244.02 157.80,245.20 C157.97,246.38 156.20,247.03 155.20,248.20 C154.20,249.37 152.13,250.18 151.80,252.20 C151.47,254.22 152.63,257.03 153.20,260.30 C153.77,263.57 154.37,270.47 155.20,271.80 C156.03,273.13 157.37,268.53 158.20,268.30 C159.03,268.07 159.52,268.88 160.20,270.40 C160.88,271.92 161.95,274.88 162.30,277.40 C162.65,279.92 162.65,282.82 162.30,285.50 C161.95,288.18 161.38,290.82 160.20,293.50 C159.02,296.18 157.22,299.40 155.20,301.60 C153.18,303.80 150.45,305.52 148.10,306.70 C145.75,307.88 142.93,308.88 141.10,308.70 C139.27,308.52 137.95,307.12 137.10,305.60 C136.25,304.08 135.83,301.62 136.00,299.60 C136.17,297.58 138.02,295.68 138.10,293.50 C138.18,291.32 136.17,288.17 136.50,286.50 C136.83,284.83 139.50,284.00 140.10,283.50" fill="none" stroke="#2cc4ef" stroke-width="1.05"/>
<polyline points="136.55,232.10 138.36,232.41 140.16,232.72 141.96,233.08 143.72,233.59 145.47,234.15 147.16,234.84 148.81,235.62 150.40,236.50 151.79,237.69 153.08,238.98 154.38,240.28 155.66,241.60 156.90,242.94 158.11,244.31 158.55,245.90 157.49,247.19 156.08,248.32 154.70,249.49 153.33,250.70 152.64,252.15 153.00,253.95 153.36,255.75 153.69,257.55 154.03,259.36 154.36,261.16 154.70,262.97 155.04,264.77 155.69,266.40 156.55,267.83 157.63,268.57 158.74,269.21 160.11,269.02 161.48,268.86 162.69,269.51 163.66,271.03 164.31,272.73 164.91,274.46 165.26,276.25 165.59,278.05 165.70,279.87 165.77,281.71 165.64,283.52 165.37,285.31 165.03,287.10 164.53,288.87 164.04,290.63 163.53,292.39 162.78,294.04 161.86,295.62 160.87,297.16 159.87,298.70 158.88,300.24 157.83,301.73 156.49,302.94 154.99,303.99 153.49,305.05 151.99,306.10 150.48,307.15 148.78,307.79 147.02,308.29 145.25,308.79 143.48,309.24 141.78,308.92 140.15,308.16 138.53,307.40 137.66,305.91 137.09,304.18 136.70,302.42 136.71,300.61 137.07,298.83 137.43,297.04 137.81,295.26 137.94,293.47 137.89,291.67 137.66,289.88 137.15,288.12 137.29,286.57 138.60,285.28 139.90,284.00" fill="none" stroke="#f060e0" stroke-width="0.9" stroke-linecap="round" stroke-dasharray="0.2 1.5"/>
<path d="M137.10,232.10 C137.93,232.20 140.43,232.37 142.10,232.70 C143.77,233.03 145.42,233.37 147.10,234.10 C148.78,234.83 150.68,235.93 152.20,237.10 C153.72,238.27 155.03,239.92 156.20,241.10 C157.37,242.28 158.60,243.25 159.20,244.20 C159.80,245.15 160.30,246.03 159.80,246.80 C159.30,247.57 157.30,248.13 156.20,248.80 C155.10,249.47 153.53,249.73 153.20,250.80 C152.87,251.87 153.70,252.78 154.20,255.20 C154.70,257.62 155.53,263.28 156.20,265.30 C156.87,267.32 157.18,267.07 158.20,267.30 C159.22,267.53 160.95,266.35 162.30,266.70 C163.65,267.05 165.23,267.95 166.30,269.40 C167.37,270.85 168.20,273.05 168.70,275.40 C169.20,277.75 169.70,280.48 169.30,283.50 C168.90,286.52 167.82,290.32 166.30,293.50 C164.78,296.68 162.55,300.17 160.20,302.60 C157.85,305.03 154.72,306.85 152.20,308.10 C149.68,309.35 147.28,310.00 145.10,310.10 C142.92,310.20 140.43,309.62 139.10,308.70 C137.77,307.78 137.33,306.62 137.10,304.60 C136.87,302.58 137.47,298.78 137.70,296.60 C137.93,294.42 138.60,293.02 138.50,291.50 C138.40,289.98 136.90,288.67 137.10,287.50 C137.30,286.33 139.27,285.00 139.70,284.50" fill="none" stroke="#8a3cf0" stroke-width="1.05"/>
<clipPath id="hb3"><path d="M57.90,340.70 C56.43,340.60 51.92,339.75 49.10,340.10 C46.28,340.45 43.48,341.45 41.00,342.80 C38.52,344.15 36.23,345.72 34.20,348.20 C32.17,350.68 30.27,354.08 28.80,357.70 C27.33,361.32 25.97,365.83 25.40,369.90 C24.83,373.97 24.95,378.48 25.40,382.10 C25.85,385.72 26.87,389.23 28.10,391.60 C29.33,393.97 30.88,395.62 32.80,396.30 C34.72,396.98 36.88,396.25 39.60,395.70 C42.32,395.15 46.05,393.80 49.10,393.00 C52.15,392.20 56.43,391.25 57.90,390.90Z"/></clipPath>
<g clip-path="url(#hb3)">
<rect x="0" y="200" width="200" height="220" fill="#f6f6f6"/>
<g filter="url(#bl09)"><path d="M57.90,340.70 C56.43,340.60 51.92,339.75 49.10,340.10 C46.28,340.45 43.48,341.45 41.00,342.80 C38.52,344.15 36.23,345.72 34.20,348.20 C32.17,350.68 30.27,354.08 28.80,357.70 C27.33,361.32 25.97,365.83 25.40,369.90 C24.83,373.97 24.95,378.48 25.40,382.10 C25.85,385.72 26.87,389.23 28.10,391.60 C29.33,393.97 30.88,395.62 32.80,396.30 C34.72,396.98 36.88,396.25 39.60,395.70 C42.32,395.15 46.05,393.80 49.10,393.00 C52.15,392.20 56.43,391.25 57.90,390.90Z" fill="#9a9a9a" transform="translate(57.90,367.00) scale(0.7846,0.9217) translate(-57.90,-368.20)"/>
<path d="M57.90,340.70 C56.43,340.60 51.92,339.75 49.10,340.10 C46.28,340.45 43.48,341.45 41.00,342.80 C38.52,344.15 36.23,345.72 34.20,348.20 C32.17,350.68 30.27,354.08 28.80,357.70 C27.33,361.32 25.97,365.83 25.40,369.90 C24.83,373.97 24.95,378.48 25.40,382.10 C25.85,385.72 26.87,389.23 28.10,391.60 C29.33,393.97 30.88,395.62 32.80,396.30 C34.72,396.98 36.88,396.25 39.60,395.70 C42.32,395.15 46.05,393.80 49.10,393.00 C52.15,392.20 56.43,391.25 57.90,390.90Z" fill="#2e2e2e" transform="translate(57.90,367.00) scale(0.6923,0.8327) translate(-57.90,-368.20)"/>
</g>
<clipPath id="hb3i"><path d="M57.90,340.70 C56.43,340.60 51.92,339.75 49.10,340.10 C46.28,340.45 43.48,341.45 41.00,342.80 C38.52,344.15 36.23,345.72 34.20,348.20 C32.17,350.68 30.27,354.08 28.80,357.70 C27.33,361.32 25.97,365.83 25.40,369.90 C24.83,373.97 24.95,378.48 25.40,382.10 C25.85,385.72 26.87,389.23 28.10,391.60 C29.33,393.97 30.88,395.62 32.80,396.30 C34.72,396.98 36.88,396.25 39.60,395.70 C42.32,395.15 46.05,393.80 49.10,393.00 C52.15,392.20 56.43,391.25 57.90,390.90Z" transform="translate(57.90,367.00) scale(0.7538,0.8861) translate(-57.90,-368.20)"/></clipPath>
<g clip-path="url(#hb3i)"><g filter="url(#bl09)">
<ellipse cx="46.5" cy="370" rx="4.2" ry="14" fill="#c4c4c4" filter="url(#bl2)" transform="rotate(6 46.5 370)"/>
<ellipse cx="53" cy="385" rx="3.5" ry="6" fill="#f0f0f0" filter="url(#bl1)" transform="rotate(0 53 385)"/>
<ellipse cx="31" cy="372" rx="2.5" ry="12" fill="#8a8a8a" filter="url(#bl1)" transform="rotate(0 31 372)"/>
<ellipse cx="54" cy="353" rx="2.5" ry="7" fill="#7a7a7a" filter="url(#bl1)" transform="rotate(0 54 353)"/>
<ellipse cx="44" cy="386" rx="2.5" ry="4" fill="#8a8a8a" filter="url(#bl1)" transform="rotate(0 44 386)"/>
<ellipse cx="42" cy="356" rx="8" ry="6" fill="#040404" filter="url(#bl1)" transform="rotate(0 42 356)"/>
<ellipse cx="37" cy="387" rx="4" ry="5" fill="#121212" filter="url(#bl1)" transform="rotate(0 37 387)"/>
</g></g></g>
<path d="M57.90,340.70 C56.43,340.60 51.92,339.75 49.10,340.10 C46.28,340.45 43.48,341.45 41.00,342.80 C38.52,344.15 36.23,345.72 34.20,348.20 C32.17,350.68 30.27,354.08 28.80,357.70 C27.33,361.32 25.97,365.83 25.40,369.90 C24.83,373.97 24.95,378.48 25.40,382.10 C25.85,385.72 26.87,389.23 28.10,391.60 C29.33,393.97 30.88,395.62 32.80,396.30 C34.72,396.98 36.88,396.25 39.60,395.70 C42.32,395.15 46.05,393.80 49.10,393.00 C52.15,392.20 56.43,391.25 57.90,390.90" fill="none" stroke="#111" stroke-width="0.7"/>
<path d="M57.90,349.60 C57.33,349.13 56.42,347.48 54.50,346.80 C52.58,346.12 49.10,345.15 46.40,345.50 C43.70,345.85 40.45,347.32 38.30,348.90 C36.15,350.48 34.52,352.85 33.50,355.00 C32.48,357.15 31.97,359.77 32.20,361.80 C32.43,363.83 33.88,366.08 34.90,367.20 C35.92,368.32 37.85,367.37 38.30,368.50 C38.75,369.63 38.52,372.63 37.60,374.00 C36.68,375.37 33.82,375.35 32.80,376.70 C31.78,378.05 31.38,380.07 31.50,382.10 C31.62,384.13 32.37,387.32 33.50,388.90 C34.63,390.48 37.05,391.03 38.30,391.60 C39.55,392.17 40.55,392.18 41.00,392.30" fill="none" stroke="#f044e6" stroke-width="1.05" stroke-linecap="round" stroke-dasharray="0.2 1.5"/>
<path d="M55.50,360.50 C56.17,360.50 57.92,361.67 58.50,363.00 C59.08,364.33 59.25,367.17 59.00,368.50 C58.75,369.83 57.75,371.08 57.00,371.00 C56.25,370.92 54.92,369.33 54.50,368.00 C54.08,366.67 54.33,364.25 54.50,363.00 C54.67,361.75 54.83,360.50 55.50,360.50Z" fill="none" stroke="#f044e6" stroke-width="1.05" stroke-linecap="round" stroke-dasharray="0.2 1.5"/>
<path d="M58.60,369.50 C58.98,369.17 60.68,368.82 60.90,367.50 C61.12,366.18 60.33,363.45 59.90,361.60 C59.47,359.75 58.42,358.15 58.30,356.40 C58.18,354.65 58.62,352.60 59.20,351.10 C59.78,349.60 60.48,348.27 61.80,347.40 C63.12,346.53 65.13,345.98 67.10,345.90 C69.07,345.82 71.53,346.03 73.60,346.90 C75.67,347.77 77.85,349.30 79.50,351.10 C81.15,352.90 82.83,355.83 83.50,357.70 C84.17,359.57 84.05,361.00 83.50,362.30 C82.95,363.60 81.30,364.63 80.20,365.50 C79.10,366.37 77.23,366.28 76.90,367.50 C76.57,368.72 77.43,371.55 78.20,372.80 C78.97,374.05 80.52,374.02 81.50,375.00 C82.48,375.98 83.67,377.22 84.10,378.70 C84.53,380.18 84.53,382.27 84.10,383.90 C83.67,385.53 82.48,387.30 81.50,388.50 C80.52,389.70 79.28,390.55 78.20,391.10 C77.12,391.65 75.53,391.68 75.00,391.80" fill="none" stroke="#2cc4ef" stroke-width="1.05"/>
<polyline points="58.90,369.80 59.85,368.94 60.80,368.07 60.92,366.91 60.73,365.65 60.54,364.38 60.34,363.11 60.08,361.85 59.77,360.61 59.43,359.37 59.08,358.14 58.95,356.88 58.85,355.63 58.99,354.35 59.13,353.08 59.30,351.82 59.76,350.65 60.40,349.55 61.11,348.48 61.83,347.43 62.82,346.71 64.04,346.31 65.26,345.91 66.48,345.51 67.74,345.38 69.00,345.40 70.27,345.55 71.55,345.70 72.82,345.85 74.04,346.16 75.18,346.67 76.22,347.41 77.27,348.16 78.31,348.90 79.36,349.64 80.29,350.49 81.10,351.45 81.76,352.55 82.42,353.65 83.08,354.75 83.74,355.85 84.32,356.98 84.72,358.17 84.85,359.43 84.94,360.71 84.63,361.90 84.23,363.06 83.44,364.06 82.64,365.05 81.65,365.84 80.60,366.56 79.49,367.21 78.38,367.86 78.02,368.86 78.26,370.12 78.51,371.37 79.18,372.36 79.89,373.32 80.84,374.10 81.88,374.86 82.84,375.69 83.74,376.59 84.54,377.58 85.17,378.66 85.55,379.83 85.68,381.08 85.72,382.36 85.74,383.64 85.44,384.85 85.01,386.03 84.41,387.17 83.81,388.30 83.05,389.29 82.17,390.19 81.14,390.95 80.11,391.71 79.02,392.35 77.81,392.70 76.55,392.98 75.30,393.25" fill="none" stroke="#f060e0" stroke-width="0.9" stroke-linecap="round" stroke-dasharray="0.2 1.5"/>
<path d="M59.20,370.10 C59.53,369.78 60.98,369.40 61.20,368.20 C61.42,367.00 60.83,364.65 60.50,362.90 C60.17,361.15 59.35,359.67 59.20,357.70 C59.05,355.73 59.05,352.97 59.60,351.10 C60.15,349.23 61.15,347.58 62.50,346.50 C63.85,345.42 65.62,344.82 67.70,344.60 C69.78,344.38 72.70,344.33 75.00,345.20 C77.30,346.07 79.70,347.83 81.50,349.80 C83.30,351.77 84.98,355.03 85.80,357.00 C86.62,358.97 86.78,360.07 86.40,361.60 C86.02,363.13 84.75,365.00 83.50,366.20 C82.25,367.40 79.57,367.70 78.90,368.80 C78.23,369.90 78.73,371.70 79.50,372.80 C80.27,373.90 82.23,374.32 83.50,375.40 C84.77,376.48 86.45,377.67 87.10,379.30 C87.75,380.93 87.78,383.33 87.40,385.20 C87.02,387.07 86.00,389.08 84.80,390.50 C83.60,391.92 81.73,393.00 80.20,393.70 C78.67,394.40 76.37,394.53 75.60,394.70" fill="none" stroke="#8a3cf0" stroke-width="1.05"/>
<clipPath id="hb4"><path d="M137.30,335.00 C135.93,334.85 131.85,333.97 129.10,334.10 C126.35,334.23 123.57,334.55 120.80,335.80 C118.03,337.05 115.12,338.98 112.50,341.60 C109.88,344.22 107.17,347.65 105.10,351.50 C103.03,355.35 101.12,360.28 100.10,364.70 C99.08,369.12 99.00,373.85 99.00,378.00 C99.00,382.15 99.22,386.30 100.10,389.60 C100.98,392.90 102.50,395.60 104.30,397.80 C106.10,400.00 108.70,401.83 110.90,402.80 C113.10,403.77 115.02,403.88 117.50,403.60 C119.98,403.32 123.05,402.48 125.80,401.10 C128.55,399.72 132.08,396.67 134.00,395.30 C135.92,393.93 136.75,393.30 137.30,392.90Z"/></clipPath>
<g clip-path="url(#hb4)">
<rect x="0" y="200" width="200" height="220" fill="#f6f6f6"/>
<g filter="url(#bl09)"><path d="M137.30,335.00 C135.93,334.85 131.85,333.97 129.10,334.10 C126.35,334.23 123.57,334.55 120.80,335.80 C118.03,337.05 115.12,338.98 112.50,341.60 C109.88,344.22 107.17,347.65 105.10,351.50 C103.03,355.35 101.12,360.28 100.10,364.70 C99.08,369.12 99.00,373.85 99.00,378.00 C99.00,382.15 99.22,386.30 100.10,389.60 C100.98,392.90 102.50,395.60 104.30,397.80 C106.10,400.00 108.70,401.83 110.90,402.80 C113.10,403.77 115.02,403.88 117.50,403.60 C119.98,403.32 123.05,402.48 125.80,401.10 C128.55,399.72 132.08,396.67 134.00,395.30 C135.92,393.93 136.75,393.30 137.30,392.90Z" fill="#9a9a9a" transform="translate(137.30,367.35) scale(0.7911,0.9252) translate(-137.30,-368.85)"/>
<path d="M137.30,335.00 C135.93,334.85 131.85,333.97 129.10,334.10 C126.35,334.23 123.57,334.55 120.80,335.80 C118.03,337.05 115.12,338.98 112.50,341.60 C109.88,344.22 107.17,347.65 105.10,351.50 C103.03,355.35 101.12,360.28 100.10,364.70 C99.08,369.12 99.00,373.85 99.00,378.00 C99.00,382.15 99.22,386.30 100.10,389.60 C100.98,392.90 102.50,395.60 104.30,397.80 C106.10,400.00 108.70,401.83 110.90,402.80 C113.10,403.77 115.02,403.88 117.50,403.60 C119.98,403.32 123.05,402.48 125.80,401.10 C128.55,399.72 132.08,396.67 134.00,395.30 C135.92,393.93 136.75,393.30 137.30,392.90Z" fill="#2e2e2e" transform="translate(137.30,367.35) scale(0.7128,0.8532) translate(-137.30,-368.85)"/>
</g>
<clipPath id="hb4i"><path d="M137.30,335.00 C135.93,334.85 131.85,333.97 129.10,334.10 C126.35,334.23 123.57,334.55 120.80,335.80 C118.03,337.05 115.12,338.98 112.50,341.60 C109.88,344.22 107.17,347.65 105.10,351.50 C103.03,355.35 101.12,360.28 100.10,364.70 C99.08,369.12 99.00,373.85 99.00,378.00 C99.00,382.15 99.22,386.30 100.10,389.60 C100.98,392.90 102.50,395.60 104.30,397.80 C106.10,400.00 108.70,401.83 110.90,402.80 C113.10,403.77 115.02,403.88 117.50,403.60 C119.98,403.32 123.05,402.48 125.80,401.10 C128.55,399.72 132.08,396.67 134.00,395.30 C135.92,393.93 136.75,393.30 137.30,392.90Z" transform="translate(137.30,367.35) scale(0.7650,0.8964) translate(-137.30,-368.85)"/></clipPath>
<g clip-path="url(#hb4i)"><g filter="url(#bl09)">
<ellipse cx="123" cy="376" rx="6.5" ry="20" fill="#bcbcbc" filter="url(#bl2)" transform="rotate(10 123 376)"/>
<ellipse cx="124.5" cy="375" rx="2.5" ry="8" fill="#f4f4f4" filter="url(#bl1)" transform="rotate(10 124.5 375)"/>
<ellipse cx="132" cy="387" rx="4" ry="6" fill="#c8c8c8" filter="url(#bl1)" transform="rotate(0 132 387)"/>
<ellipse cx="104" cy="378" rx="2.5" ry="13" fill="#9a9a9a" filter="url(#bl1)" transform="rotate(0 104 378)"/>
<ellipse cx="133" cy="352" rx="2" ry="7" fill="#707070" filter="url(#bl1)" transform="rotate(0 133 352)"/>
<ellipse cx="121" cy="352" rx="10" ry="6" fill="#040404" filter="url(#bl1)" transform="rotate(0 121 352)"/>
<ellipse cx="112" cy="391" rx="5" ry="8" fill="#0a0a0a" filter="url(#bl1)" transform="rotate(20 112 391)"/>
</g></g></g>
<path d="M137.30,335.00 C135.93,334.85 131.85,333.97 129.10,334.10 C126.35,334.23 123.57,334.55 120.80,335.80 C118.03,337.05 115.12,338.98 112.50,341.60 C109.88,344.22 107.17,347.65 105.10,351.50 C103.03,355.35 101.12,360.28 100.10,364.70 C99.08,369.12 99.00,373.85 99.00,378.00 C99.00,382.15 99.22,386.30 100.10,389.60 C100.98,392.90 102.50,395.60 104.30,397.80 C106.10,400.00 108.70,401.83 110.90,402.80 C113.10,403.77 115.02,403.88 117.50,403.60 C119.98,403.32 123.05,402.48 125.80,401.10 C128.55,399.72 132.08,396.67 134.00,395.30 C135.92,393.93 136.75,393.30 137.30,392.90" fill="none" stroke="#111" stroke-width="0.7"/>
<path d="M136.50,343.20 C135.68,342.93 133.67,341.73 131.60,341.60 C129.53,341.47 126.72,341.58 124.10,342.40 C121.48,343.22 118.38,344.43 115.90,346.50 C113.42,348.57 110.58,352.03 109.20,354.80 C107.82,357.57 107.32,360.90 107.60,363.10 C107.88,365.30 109.67,367.45 110.90,368.00 C112.13,368.55 114.32,365.83 115.00,366.40 C115.68,366.97 115.97,370.02 115.00,371.40 C114.03,372.78 110.72,373.05 109.20,374.70 C107.68,376.35 106.17,378.55 105.90,381.30 C105.63,384.05 106.50,388.72 107.60,391.20 C108.70,393.68 111.68,395.37 112.50,396.20" fill="none" stroke="#f044e6" stroke-width="1.05" stroke-linecap="round" stroke-dasharray="0.2 1.5"/>
<path d="M133.00,360.00 C133.75,360.00 136.17,360.83 137.00,362.00 C137.83,363.17 138.33,365.75 138.00,367.00 C137.67,368.25 135.92,369.67 135.00,369.50 C134.08,369.33 132.92,367.25 132.50,366.00 C132.08,364.75 132.42,363.00 132.50,362.00 C132.58,361.00 132.25,360.00 133.00,360.00Z" fill="none" stroke="#f044e6" stroke-width="1.05" stroke-linecap="round" stroke-dasharray="0.2 1.5"/>
<path d="M136.40,367.10 C137.23,366.75 141.05,366.18 141.40,365.00 C141.75,363.82 139.10,362.25 138.50,360.00 C137.90,357.75 137.80,353.98 137.80,351.50 C137.80,349.02 137.67,346.65 138.50,345.10 C139.33,343.55 141.13,342.32 142.80,342.20 C144.47,342.08 146.37,343.57 148.50,344.40 C150.63,345.23 153.47,345.43 155.60,347.20 C157.73,348.97 159.65,352.52 161.30,355.00 C162.95,357.48 164.92,360.08 165.50,362.10 C166.08,364.12 165.75,366.27 164.80,367.10 C163.85,367.93 160.98,367.28 159.80,367.10 C158.62,366.92 157.93,364.58 157.70,366.00 C157.47,367.42 157.57,374.12 158.40,375.60 C159.23,377.08 161.52,374.42 162.70,374.90 C163.88,375.38 164.92,376.72 165.50,378.50 C166.08,380.28 166.32,383.48 166.20,385.60 C166.08,387.72 165.75,389.67 164.80,391.20 C163.85,392.73 161.45,394.08 160.50,394.80 C159.55,395.52 159.33,395.38 159.10,395.50" fill="none" stroke="#2cc4ef" stroke-width="1.05"/>
<polyline points="136.75,367.80 138.12,367.12 139.49,366.43 140.86,365.75 141.80,364.92 141.09,363.57 140.37,362.21 139.66,360.85 139.16,359.44 139.04,357.91 138.93,356.38 138.81,354.85 138.69,353.32 138.58,351.78 138.61,350.27 138.96,348.78 139.30,347.30 139.65,345.81 140.08,344.39 141.28,343.49 142.55,342.62 143.83,341.80 145.24,341.74 146.71,342.16 148.18,342.58 149.66,342.99 151.07,343.57 152.44,344.24 153.82,344.91 155.19,345.59 156.56,346.26 157.94,346.93 159.04,347.95 160.01,349.14 160.97,350.33 161.94,351.52 162.91,352.71 163.87,353.90 164.65,355.20 165.28,356.59 165.91,357.98 166.55,359.37 166.90,360.76 166.97,362.14 166.88,363.55 166.49,365.02 165.72,365.99 164.81,366.78 163.36,366.95 161.83,367.02 160.30,367.09 159.46,367.71 158.72,368.18 158.50,369.45 158.72,370.89 159.38,372.06 160.23,372.62 161.08,373.18 161.93,373.74 162.84,374.23 164.24,374.43 165.59,374.82 166.92,375.25 167.42,376.60 167.87,377.98 168.31,379.37 168.41,380.88 168.49,382.42 168.38,383.92 168.20,385.41 168.02,386.90 167.60,388.38 167.18,389.85 166.69,391.27 165.79,392.33 164.52,393.16 163.23,393.98 161.93,394.73 160.56,395.18 159.10,395.50" fill="none" stroke="#f060e0" stroke-width="0.9" stroke-linecap="round" stroke-dasharray="0.2 1.5"/>
<path d="M137.10,368.50 C138.00,367.98 142.03,366.82 142.50,365.40 C142.97,363.98 140.45,362.57 139.90,360.00 C139.35,357.43 138.95,352.72 139.20,350.00 C139.45,347.28 140.33,345.23 141.40,343.70 C142.47,342.17 143.72,341.05 145.60,340.80 C147.48,340.55 150.08,341.13 152.70,342.20 C155.32,343.27 158.82,345.18 161.30,347.20 C163.78,349.22 166.18,352.05 167.60,354.30 C169.02,356.55 169.80,358.68 169.80,360.70 C169.80,362.72 169.27,365.33 167.60,366.40 C165.93,367.47 161.22,366.03 159.80,367.10 C158.38,368.17 158.98,371.62 159.10,372.80 C159.22,373.98 159.08,374.20 160.50,374.20 C161.92,374.20 165.82,372.57 167.60,372.80 C169.38,373.03 170.60,373.72 171.20,375.60 C171.80,377.48 171.67,381.25 171.20,384.10 C170.73,386.95 169.82,390.80 168.40,392.70 C166.98,394.60 164.25,395.03 162.70,395.50 C161.15,395.97 159.70,395.50 159.10,395.50" fill="none" stroke="#8a3cf0" stroke-width="1.05"/>
<text x="22" y="413.7" font-size="8" text-anchor="middle" font-weight="normal" fill="#231f20" >Percentage</text>
<text x="22" y="421.2" font-size="8" text-anchor="middle" font-weight="normal" fill="#231f20" >of explained</text>
<text x="22" y="428.4" font-size="8" text-anchor="middle" font-weight="normal" fill="#231f20" >variability</text>
<text x="57.6" y="421.2" font-size="8" text-anchor="middle" font-weight="normal" fill="#231f20" >58.9</text>
<text x="136.6" y="421.2" font-size="8" text-anchor="middle" font-weight="normal" fill="#231f20" >46.1</text>
<line x1="47.9" y1="438.7" x2="59.6" y2="438.7" stroke="#3fc8ef" stroke-width="2"/>
<text x="64.2" y="441.3" font-size="8" text-anchor="start" font-weight="normal" fill="#231f20" >−2<tspan font-family="Liberation Serif" font-style="italic">σ</tspan></text>
<line x1="90" y1="438.7" x2="102.8" y2="438.7" stroke="#f060e6" stroke-width="1.5" stroke-linecap="round" stroke-dasharray="0.2 2.3"/>
<text x="107.5" y="441.3" font-size="8" text-anchor="start" font-weight="normal" fill="#231f20" ><tspan font-family="Liberation Serif" font-style="italic">μ</tspan></text>
<line x1="125" y1="438.7" x2="137.8" y2="438.7" stroke="#8f4bf0" stroke-width="2"/>
<text x="141.3" y="441.3" font-size="8" text-anchor="start" font-weight="normal" fill="#231f20" >+2<tspan font-family="Liberation Serif" font-style="italic">σ</tspan></text>
<text x="188.3" y="201.5" font-size="10.5" text-anchor="start" font-weight="bold" fill="#000" >d</text>
<text x="307.8" y="212.8" font-size="8" text-anchor="end" font-weight="normal" fill="#231f20" >Development</text>
<text x="307.8" y="221.41" font-size="8" text-anchor="end" font-weight="normal" fill="#231f20" >Cognitive</text>
<rect x="313.1" y="217.21" width="176.8" height="3.2" fill="#3f9bc3"/>
<rect x="313.1" y="217.21" width="1.10" height="3.2" fill="#f26a3c"/>
<rect x="314" y="218.36" width="175" height="0.9" fill="#fff" fill-opacity="0.22"/>
<line x1="310" y1="218.81" x2="312.7" y2="218.81" stroke="#4d4d4d" stroke-width="1"/>
<text x="307.8" y="230.02" font-size="8" text-anchor="end" font-weight="normal" fill="#231f20" >Fine motor</text>
<rect x="313.1" y="225.82" width="176.8" height="3.2" fill="#3f9bc3"/>
<rect x="313.1" y="225.82" width="9.20" height="3.2" fill="#f26a3c"/>
<rect x="314" y="226.97" width="175" height="0.9" fill="#fff" fill-opacity="0.22"/>
<line x1="310" y1="227.42" x2="312.7" y2="227.42" stroke="#4d4d4d" stroke-width="1"/>
<text x="307.8" y="238.63" font-size="8" text-anchor="end" font-weight="normal" fill="#231f20" >Gross motor</text>
<rect x="313.1" y="234.43" width="176.8" height="3.2" fill="#3f9bc3"/>
<rect x="313.1" y="234.43" width="10.20" height="3.2" fill="#f26a3c"/>
<rect x="314" y="235.58" width="175" height="0.9" fill="#fff" fill-opacity="0.22"/>
<line x1="310" y1="236.03" x2="312.7" y2="236.03" stroke="#4d4d4d" stroke-width="1"/>
<text x="307.8" y="247.24" font-size="8" text-anchor="end" font-weight="normal" fill="#231f20" >Positive behaviour</text>
<rect x="313.1" y="243.04" width="176.8" height="3.2" fill="#3f9bc3"/>
<rect x="313.1" y="243.04" width="13.60" height="3.2" fill="#f26a3c"/>
<rect x="314" y="244.19" width="175" height="0.9" fill="#fff" fill-opacity="0.22"/>
<line x1="310" y1="244.64" x2="312.7" y2="244.64" stroke="#4d4d4d" stroke-width="1"/>
<text x="307.8" y="255.85" font-size="8" text-anchor="end" font-weight="normal" fill="#231f20" >Negative behaviour</text>
<rect x="313.1" y="251.65" width="176.8" height="3.2" fill="#3f9bc3"/>
<rect x="313.1" y="251.65" width="23.70" height="3.2" fill="#f26a3c"/>
<rect x="314" y="252.80" width="175" height="0.9" fill="#fff" fill-opacity="0.22"/>
<line x1="310" y1="253.25" x2="312.7" y2="253.25" stroke="#4d4d4d" stroke-width="1"/>
<text x="307.8" y="264.46" font-size="8" text-anchor="end" font-weight="normal" fill="#231f20" >Attentional problems</text>
<rect x="313.1" y="260.26" width="176.8" height="3.2" fill="#3f9bc3"/>
<rect x="313.1" y="260.26" width="8.50" height="3.2" fill="#f26a3c"/>
<rect x="314" y="261.41" width="175" height="0.9" fill="#fff" fill-opacity="0.22"/>
<line x1="310" y1="261.86" x2="312.7" y2="261.86" stroke="#4d4d4d" stroke-width="1"/>
<text x="307.8" y="273.07" font-size="8" text-anchor="end" font-weight="normal" fill="#231f20" >Emotional reactivity</text>
<rect x="313.1" y="268.87" width="176.8" height="3.2" fill="#3f9bc3"/>
<rect x="313.1" y="268.87" width="24.30" height="3.2" fill="#f26a3c"/>
<rect x="314" y="270.02" width="175" height="0.9" fill="#fff" fill-opacity="0.22"/>
<line x1="310" y1="270.47" x2="312.7" y2="270.47" stroke="#4d4d4d" stroke-width="1"/>
<text x="307.8" y="281.68" font-size="8" text-anchor="end" font-weight="normal" fill="#231f20" >Visual acuity</text>
<rect x="313.1" y="277.48" width="176.8" height="3.2" fill="#3f9bc3"/>
<rect x="313.1" y="277.48" width="13.00" height="3.2" fill="#f26a3c"/>
<rect x="314" y="278.63" width="175" height="0.9" fill="#fff" fill-opacity="0.22"/>
<line x1="310" y1="279.08" x2="312.7" y2="279.08" stroke="#4d4d4d" stroke-width="1"/>
<text x="307.8" y="290.29" font-size="8" text-anchor="end" font-weight="normal" fill="#231f20" >Visual contrast sensitivity</text>
<rect x="313.1" y="286.09" width="176.8" height="3.2" fill="#3f9bc3"/>
<rect x="313.1" y="286.09" width="11.80" height="3.2" fill="#f26a3c"/>
<rect x="314" y="287.24" width="175" height="0.9" fill="#fff" fill-opacity="0.22"/>
<line x1="310" y1="287.69" x2="312.7" y2="287.69" stroke="#4d4d4d" stroke-width="1"/>
<text x="307.8" y="298.9" font-size="8" text-anchor="end" font-weight="normal" fill="#231f20" >Positive affect</text>
<rect x="313.1" y="294.70" width="176.8" height="3.2" fill="#3f9bc3"/>
<rect x="313.1" y="294.70" width="3.40" height="3.2" fill="#f26a3c"/>
<rect x="314" y="295.85" width="175" height="0.9" fill="#fff" fill-opacity="0.22"/>
<line x1="310" y1="296.30" x2="312.7" y2="296.30" stroke="#4d4d4d" stroke-width="1"/>
<text x="307.8" y="307.51" font-size="8" text-anchor="end" font-weight="normal" fill="#231f20" >Standing alone</text>
<rect x="313.1" y="303.31" width="176.8" height="3.2" fill="#3f9bc3"/>
<rect x="313.1" y="303.31" width="9.00" height="3.2" fill="#f26a3c"/>
<rect x="314" y="304.46" width="175" height="0.9" fill="#fff" fill-opacity="0.22"/>
<line x1="310" y1="304.91" x2="312.7" y2="304.91" stroke="#4d4d4d" stroke-width="1"/>
<text x="307.8" y="316.12" font-size="8" text-anchor="end" font-weight="normal" fill="#231f20" >Walking alone</text>
<rect x="313.1" y="311.92" width="176.8" height="3.2" fill="#3f9bc3"/>
<rect x="313.1" y="311.92" width="11.00" height="3.2" fill="#f26a3c"/>
<rect x="314" y="313.07" width="175" height="0.9" fill="#fff" fill-opacity="0.22"/>
<line x1="310" y1="313.52" x2="312.7" y2="313.52" stroke="#4d4d4d" stroke-width="1"/>
<text x="307.8" y="324.73" font-size="8" text-anchor="end" font-weight="normal" fill="#231f20" >Skeletal growth</text>
<text x="307.8" y="333.34" font-size="8" text-anchor="end" font-weight="normal" fill="#231f20" >1<tspan dy="-2.5" font-size="5">st</tspan><tspan dy="2.5"> trimester fetal CRL</tspan></text>
<rect x="313.1" y="329.14" width="176.8" height="3.2" fill="#3f9bc3"/>
<rect x="313.1" y="329.14" width="2.50" height="3.2" fill="#f26a3c"/>
<rect x="314" y="330.29" width="175" height="0.9" fill="#fff" fill-opacity="0.22"/>
<line x1="310" y1="330.74" x2="312.7" y2="330.74" stroke="#4d4d4d" stroke-width="1"/>
<text x="307.8" y="341.95" font-size="8" text-anchor="end" font-weight="normal" fill="#231f20" >2<tspan dy="-2.5" font-size="5">nd</tspan><tspan dy="2.5"> and 3</tspan><tspan dy="-2.5" font-size="5">rd</tspan><tspan dy="2.5"> trimester fetal HC</tspan></text>
<rect x="313.1" y="337.75" width="176.8" height="3.2" fill="#3f9bc3"/>
<rect x="313.1" y="337.75" width="3.80" height="3.2" fill="#f26a3c"/>
<rect x="314" y="338.90" width="175" height="0.9" fill="#fff" fill-opacity="0.22"/>
<line x1="310" y1="339.35" x2="312.7" y2="339.35" stroke="#4d4d4d" stroke-width="1"/>
<text x="307.8" y="350.56" font-size="8" text-anchor="end" font-weight="normal" fill="#231f20" >Length at birth</text>
<rect x="313.1" y="346.36" width="176.8" height="3.2" fill="#3f9bc3"/>
<rect x="313.1" y="346.36" width="5.10" height="3.2" fill="#f26a3c"/>
<rect x="314" y="347.51" width="175" height="0.9" fill="#fff" fill-opacity="0.22"/>
<line x1="310" y1="347.96" x2="312.7" y2="347.96" stroke="#4d4d4d" stroke-width="1"/>
<text x="307.8" y="359.17" font-size="8" text-anchor="end" font-weight="normal" fill="#231f20" >Preterm length—birth to 6 months</text>
<rect x="313.1" y="354.97" width="176.8" height="3.2" fill="#3f9bc3"/>
<rect x="313.1" y="354.97" width="1.20" height="3.2" fill="#f26a3c"/>
<rect x="314" y="356.12" width="175" height="0.9" fill="#fff" fill-opacity="0.22"/>
<line x1="310" y1="356.57" x2="312.7" y2="356.57" stroke="#4d4d4d" stroke-width="1"/>
<text x="307.8" y="367.78" font-size="8" text-anchor="end" font-weight="normal" fill="#231f20" >Length—birth to 2 years</text>
<rect x="313.1" y="363.58" width="176.8" height="3.2" fill="#3f9bc3"/>
<rect x="313.1" y="363.58" width="8.60" height="3.2" fill="#f26a3c"/>
<rect x="314" y="364.73" width="175" height="0.9" fill="#fff" fill-opacity="0.22"/>
<line x1="310" y1="365.18" x2="312.7" y2="365.18" stroke="#4d4d4d" stroke-width="1"/>
<text x="307.8" y="376.39" font-size="8" text-anchor="end" font-weight="normal" fill="#231f20" >Infant and child length</text>
<rect x="313.1" y="372.19" width="176.8" height="3.2" fill="#3f9bc3"/>
<rect x="313.1" y="372.19" width="4.40" height="3.2" fill="#f26a3c"/>
<rect x="314" y="373.34" width="175" height="0.9" fill="#fff" fill-opacity="0.22"/>
<line x1="310" y1="373.79" x2="312.7" y2="373.79" stroke="#4d4d4d" stroke-width="1"/>
<text x="307.8" y="385.0" font-size="8" text-anchor="end" font-weight="normal" fill="#231f20" >Child height</text>
<rect x="313.1" y="380.80" width="176.8" height="3.2" fill="#3f9bc3"/>
<rect x="313.1" y="380.80" width="4.40" height="3.2" fill="#f26a3c"/>
<rect x="314" y="381.95" width="175" height="0.9" fill="#fff" fill-opacity="0.22"/>
<line x1="310" y1="382.40" x2="312.7" y2="382.40" stroke="#4d4d4d" stroke-width="1"/>
<text x="307.8" y="393.61" font-size="8" text-anchor="end" font-weight="normal" fill="#231f20" >Brain growth</text>
<text x="307.8" y="402.22" font-size="8" text-anchor="end" font-weight="normal" fill="#231f20" >TBV</text>
<rect x="313.1" y="398.02" width="176.8" height="3.2" fill="#3f9bc3"/>
<rect x="313.1" y="398.02" width="3.00" height="3.2" fill="#f26a3c"/>
<rect x="314" y="399.17" width="175" height="0.9" fill="#fff" fill-opacity="0.22"/>
<line x1="310" y1="399.62" x2="312.7" y2="399.62" stroke="#4d4d4d" stroke-width="1"/>
<text x="307.8" y="410.83" font-size="8" text-anchor="end" font-weight="normal" fill="#231f20" >ChPV</text>
<rect x="313.1" y="406.63" width="176.8" height="3.2" fill="#3f9bc3"/>
<rect x="313.1" y="406.63" width="1.90" height="3.2" fill="#f26a3c"/>
<rect x="314" y="407.78" width="175" height="0.9" fill="#fff" fill-opacity="0.22"/>
<line x1="310" y1="408.23" x2="312.7" y2="408.23" stroke="#4d4d4d" stroke-width="1"/>
<text x="307.8" y="419.44" font-size="8" text-anchor="end" font-weight="normal" fill="#231f20" >Cerebellar volume</text>
<rect x="313.1" y="415.24" width="176.8" height="3.2" fill="#3f9bc3"/>
<rect x="313.1" y="415.24" width="4.40" height="3.2" fill="#f26a3c"/>
<rect x="314" y="416.39" width="175" height="0.9" fill="#fff" fill-opacity="0.22"/>
<line x1="310" y1="416.84" x2="312.7" y2="416.84" stroke="#4d4d4d" stroke-width="1"/>
<text x="307.8" y="428.05" font-size="8" text-anchor="end" font-weight="normal" fill="#231f20" >CoPV</text>
<rect x="313.1" y="423.85" width="176.8" height="3.2" fill="#3f9bc3"/>
<rect x="313.1" y="423.85" width="3.00" height="3.2" fill="#f26a3c"/>
<rect x="314" y="425.00" width="175" height="0.9" fill="#fff" fill-opacity="0.22"/>
<line x1="310" y1="425.45" x2="312.7" y2="425.45" stroke="#4d4d4d" stroke-width="1"/>
<text x="307.8" y="436.66" font-size="8" text-anchor="end" font-weight="normal" fill="#231f20" >Cortical plate surface area</text>
<rect x="313.1" y="432.46" width="176.8" height="3.2" fill="#3f9bc3"/>
<rect x="313.1" y="432.46" width="1.90" height="3.2" fill="#f26a3c"/>
<rect x="314" y="433.61" width="175" height="0.9" fill="#fff" fill-opacity="0.22"/>
<line x1="310" y1="434.06" x2="312.7" y2="434.06" stroke="#4d4d4d" stroke-width="1"/>
<path d="M312.7 207 V436.5 H490" fill="none" stroke="#4d4d4d" stroke-width="1"/>
<line x1="347.3" y1="436.5" x2="347.3" y2="440.8" stroke="#4d4d4d" stroke-width="1"/>
<text x="347.3" y="448.5" font-size="8" text-anchor="middle" font-weight="normal" fill="#231f20" >20</text>
<line x1="382.9" y1="436.5" x2="382.9" y2="440.8" stroke="#4d4d4d" stroke-width="1"/>
<text x="382.9" y="448.5" font-size="8" text-anchor="middle" font-weight="normal" fill="#231f20" >40</text>
<line x1="418.4" y1="436.5" x2="418.4" y2="440.8" stroke="#4d4d4d" stroke-width="1"/>
<text x="418.4" y="448.5" font-size="8" text-anchor="middle" font-weight="normal" fill="#231f20" >60</text>
<line x1="454.0" y1="436.5" x2="454.0" y2="440.8" stroke="#4d4d4d" stroke-width="1"/>
<text x="454.0" y="448.5" font-size="8" text-anchor="middle" font-weight="normal" fill="#231f20" >80</text>
<line x1="489.5" y1="436.5" x2="489.5" y2="440.8" stroke="#4d4d4d" stroke-width="1"/>
<text x="489.5" y="448.5" font-size="8" text-anchor="middle" font-weight="normal" fill="#231f20" >100</text>
<text x="400" y="460.9" font-size="8" text-anchor="middle" font-weight="normal" fill="#231f20" >Variance components as percentage</text>
<text x="399.3" y="469.6" font-size="8" text-anchor="middle" font-weight="normal" fill="#231f20" >of total variance across study sites</text>
<text x="506.4" y="201.8" font-size="10.5" text-anchor="start" font-weight="bold" fill="#000" >e</text>
<text x="539.6" y="210.4" font-size="8" text-anchor="middle" fill="#231f20">PC<tspan font-size="5" dy="2">1</tspan></text>
<text x="596.8" y="210.4" font-size="8" text-anchor="middle" fill="#231f20">PC<tspan font-size="5" dy="2">2</tspan></text>
<text x="653.3" y="210.4" font-size="8" text-anchor="middle" fill="#231f20">PC<tspan font-size="5" dy="2">3</tspan></text>
<text transform="translate(511,246.8) rotate(-90)" font-size="8" text-anchor="middle" fill="#231f20">14 GW</text>
<text transform="translate(511,322) rotate(-90)" font-size="8" text-anchor="middle" fill="#231f20">18 GW</text>
<text transform="translate(511,401.3) rotate(-90)" font-size="8" text-anchor="middle" fill="#231f20">22 GW</text>
<defs><filter id="eb1" x="-50%" y="-50%" width="200%" height="200%"><feGaussianBlur stdDeviation="1.0"/></filter><filter id="eb2" x="-50%" y="-50%" width="200%" height="200%"><feGaussianBlur stdDeviation="1.8"/></filter><filter id="eb3" x="-50%" y="-50%" width="200%" height="200%"><feGaussianBlur stdDeviation="3"/></filter><filter id="eb09" x="-50%" y="-50%" width="200%" height="200%"><feGaussianBlur stdDeviation="0.9"/></filter><filter id="eb08" x="-50%" y="-50%" width="200%" height="200%"><feGaussianBlur stdDeviation="0.8"/></filter><filter id="eb05" x="-50%" y="-50%" width="200%" height="200%"><feGaussianBlur stdDeviation="0.45"/></filter></defs>
<clipPath id="eclip1"><path d="M541.00,219.35 C541.52,219.35 541.22,218.50 542.57,218.50 C543.93,218.50 546.90,218.69 549.12,219.35 C551.35,220.02 553.84,221.06 555.93,222.49 C558.03,223.92 560.17,225.81 561.70,227.91 C563.23,230.00 564.23,232.70 565.10,235.03 C565.98,237.36 566.59,239.45 566.94,241.87 C567.29,244.29 567.29,247.24 567.20,249.56 C567.11,251.89 566.98,253.60 566.41,255.84 C565.85,258.07 565.06,260.73 563.79,262.96 C562.53,265.19 560.82,267.47 558.82,269.23 C556.81,270.99 554.06,272.51 551.74,273.50 C549.43,274.50 546.55,274.88 544.93,275.21 C543.31,275.55 542.70,275.55 542.05,275.50 C541.39,275.45 541.35,274.93 541.00,274.93 C540.65,274.93 540.61,275.45 539.95,275.50 C539.30,275.55 538.69,275.55 537.07,275.21 C535.45,274.88 532.57,274.50 530.26,273.50 C527.94,272.51 525.19,270.99 523.18,269.23 C521.18,267.47 519.47,265.19 518.21,262.96 C516.94,260.73 516.15,258.07 515.59,255.84 C515.02,253.60 514.89,251.89 514.80,249.56 C514.71,247.24 514.71,244.29 515.06,241.87 C515.41,239.45 516.02,237.36 516.90,235.03 C517.77,232.70 518.77,230.00 520.30,227.91 C521.83,225.81 523.97,223.92 526.07,222.49 C528.16,221.06 530.65,220.02 532.88,219.35 C535.10,218.69 538.07,218.50 539.43,218.50 C540.78,218.50 540.48,219.35 541.00,219.35Z"/></clipPath>
<g clip-path="url(#eclip1)">
<rect x="512.8" y="216.5" width="56.40000000000009" height="61.0" fill="#ffffff"/>
<g filter="url(#eb08)"><ellipse cx="541.00" cy="247.00" rx="20.20" ry="26.50" fill="#0c0c0c"/>
<rect x="540.0" y="220" width="2.6" height="54" fill="#8c8c8c" filter="url(#eb09)"/>
<ellipse cx="533" cy="248.3" rx="6.4" ry="11.6" fill="#ababab" filter="url(#eb09)"/>
<ellipse cx="550.8" cy="247.5" rx="6.2" ry="10" fill="#ababab" filter="url(#eb09)"/>
</g>
<g filter="url(#eb05)" opacity="0.85">
<path d="M526.00,253.00 C526.33,253.75 529.00,258.50 531.00,259.50 C533.00,260.50 536.67,259.75 538.00,259.00 C539.33,258.25 539.50,255.33 539.00,255.00 C538.50,254.67 536.67,257.00 535.00,257.00 C533.33,257.00 530.50,255.67 529.00,255.00 C527.50,254.33 525.67,252.25 526.00,253.00Z" fill="#1fe48f"/>
<path d="M527.50,239.00 C528.25,238.50 530.42,236.17 532.00,236.00 C533.58,235.83 536.17,237.67 537.00,238.00" fill="none" stroke="#14b4d2" stroke-width="0.7" stroke-linecap="round" filter="url(#eb05)"/>
<path d="M545.00,240.00 C544.75,241.00 545.50,248.75 546.50,252.00 C547.50,255.25 549.08,258.08 551.00,259.50 C552.92,260.92 556.33,261.58 558.00,260.50 C559.67,259.42 561.08,253.83 561.00,253.00 C560.92,252.17 559.17,255.33 557.50,255.50 C555.83,255.67 552.58,255.58 551.00,254.00 C549.42,252.42 549.00,248.33 548.00,246.00 C547.00,243.67 545.25,239.00 545.00,240.00Z" fill="#1fe48f"/>
<path d="M545.00,254.00 C545.42,254.83 547.08,258.17 547.50,259.00" fill="none" stroke="#f2c418" stroke-width="1.2" stroke-linecap="round" filter="url(#eb05)"/>
<path d="M521.00,243.00 C521.08,244.50 521.00,248.83 521.50,252.00 C522.00,255.17 523.58,260.33 524.00,262.00" fill="none" stroke="#1fe48f" stroke-width="1.4" stroke-linecap="round" filter="url(#eb05)"/>
<path d="M523.00,237.00 C522.92,239.17 522.00,245.50 522.50,250.00 C523.00,254.50 525.42,261.67 526.00,264.00" fill="none" stroke="#dc8c14" stroke-width="0.7" stroke-linecap="round" filter="url(#eb05)"/>
<path d="M557.00,262.00 C557.83,261.00 561.17,257.00 562.00,256.00" fill="none" stroke="#1fe48f" stroke-width="2.0" stroke-linecap="round" filter="url(#eb05)"/>
<path d="M563.50,237.00 C563.55,238.33 563.75,243.67 563.80,245.00" fill="none" stroke="#f2c418" stroke-width="1.0" stroke-linecap="round" filter="url(#eb05)"/>
<path d="M561.50,236.00 C561.67,237.00 562.33,241.00 562.50,242.00" fill="none" stroke="#1fe48f" stroke-width="1.1" stroke-linecap="round" filter="url(#eb05)"/>
</g>
</g>
<path d="M541.00,219.35 C541.52,219.35 541.22,218.50 542.57,218.50 C543.93,218.50 546.90,218.69 549.12,219.35 C551.35,220.02 553.84,221.06 555.93,222.49 C558.03,223.92 560.17,225.81 561.70,227.91 C563.23,230.00 564.23,232.70 565.10,235.03 C565.98,237.36 566.59,239.45 566.94,241.87 C567.29,244.29 567.29,247.24 567.20,249.56 C567.11,251.89 566.98,253.60 566.41,255.84 C565.85,258.07 565.06,260.73 563.79,262.96 C562.53,265.19 560.82,267.47 558.82,269.23 C556.81,270.99 554.06,272.51 551.74,273.50 C549.43,274.50 546.55,274.88 544.93,275.21 C543.31,275.55 542.70,275.55 542.05,275.50 C541.39,275.45 541.35,274.93 541.00,274.93 C540.65,274.93 540.61,275.45 539.95,275.50 C539.30,275.55 538.69,275.55 537.07,275.21 C535.45,274.88 532.57,274.50 530.26,273.50 C527.94,272.51 525.19,270.99 523.18,269.23 C521.18,267.47 519.47,265.19 518.21,262.96 C516.94,260.73 516.15,258.07 515.59,255.84 C515.02,253.60 514.89,251.89 514.80,249.56 C514.71,247.24 514.71,244.29 515.06,241.87 C515.41,239.45 516.02,237.36 516.90,235.03 C517.77,232.70 518.77,230.00 520.30,227.91 C521.83,225.81 523.97,223.92 526.07,222.49 C528.16,221.06 530.65,220.02 532.88,219.35 C535.10,218.69 538.07,218.50 539.43,218.50 C540.78,218.50 540.48,219.35 541.00,219.35Z" fill="none" stroke="#111" stroke-width="1.8"/>
<clipPath id="eclip2"><path d="M598.40,219.35 C598.92,219.35 598.62,218.50 599.97,218.50 C601.33,218.50 604.30,218.69 606.52,219.35 C608.75,220.02 611.24,221.06 613.33,222.49 C615.43,223.92 617.57,225.81 619.10,227.91 C620.63,230.00 621.63,232.70 622.50,235.03 C623.38,237.36 623.99,239.45 624.34,241.87 C624.69,244.29 624.69,247.24 624.60,249.56 C624.51,251.89 624.38,253.60 623.81,255.84 C623.25,258.07 622.46,260.73 621.19,262.96 C619.93,265.19 618.22,267.47 616.22,269.23 C614.21,270.99 611.46,272.51 609.14,273.50 C606.83,274.50 603.95,274.88 602.33,275.21 C600.71,275.55 600.10,275.55 599.45,275.50 C598.79,275.45 598.75,274.93 598.40,274.93 C598.05,274.93 598.01,275.45 597.35,275.50 C596.70,275.55 596.09,275.55 594.47,275.21 C592.85,274.88 589.97,274.50 587.66,273.50 C585.34,272.51 582.59,270.99 580.58,269.23 C578.58,267.47 576.87,265.19 575.61,262.96 C574.34,260.73 573.55,258.07 572.99,255.84 C572.42,253.60 572.29,251.89 572.20,249.56 C572.11,247.24 572.11,244.29 572.46,241.87 C572.81,239.45 573.42,237.36 574.30,235.03 C575.17,232.70 576.17,230.00 577.70,227.91 C579.23,225.81 581.37,223.92 583.47,222.49 C585.56,221.06 588.05,220.02 590.28,219.35 C592.51,218.69 595.47,218.50 596.83,218.50 C598.18,218.50 597.88,219.35 598.40,219.35Z"/></clipPath>
<g clip-path="url(#eclip2)">
<rect x="570.2" y="216.5" width="56.39999999999998" height="61.0" fill="#ffffff"/>
<g filter="url(#eb08)"><ellipse cx="598.40" cy="247.00" rx="20.20" ry="26.50" fill="#0c0c0c"/>
<rect x="597.1" y="220" width="2.6" height="54" fill="#8c8c8c" filter="url(#eb09)"/>
<ellipse cx="589" cy="249.3" rx="6.3" ry="12.2" fill="#ababab" filter="url(#eb09)"/>
<ellipse cx="607.2" cy="250.8" rx="5.6" ry="9.5" fill="#ababab" filter="url(#eb09)"/>
</g>
<g filter="url(#eb05)" opacity="0.85">
<path d="M582.00,255.00 C581.67,255.58 584.90,260.67 587.00,261.50 C589.10,262.33 593.43,260.92 594.60,260.00 C595.77,259.08 594.93,256.33 594.00,256.00 C593.07,255.67 591.00,258.17 589.00,258.00 C587.00,257.83 582.33,254.42 582.00,255.00Z" fill="#1fe48f"/>
<path d="M582.50,238.00 C582.58,239.00 582.92,243.00 583.00,244.00" fill="none" stroke="#1fe48f" stroke-width="1.6" stroke-linecap="round" filter="url(#eb05)"/>
<path d="M578.00,249.00 C578.50,250.50 579.67,255.50 581.00,258.00 C582.33,260.50 585.17,263.00 586.00,264.00" fill="none" stroke="#f2c418" stroke-width="1.0" stroke-linecap="round" filter="url(#eb05)"/>
<path d="M594.60,233.50 C594.60,234.50 594.60,238.50 594.60,239.50" fill="none" stroke="#f2c418" stroke-width="0.9" stroke-linecap="round" filter="url(#eb05)"/>
<path d="M601.50,238.00 C601.83,236.67 603.42,236.00 605.00,236.00 C606.58,236.00 609.83,236.83 611.00,238.00 C612.17,239.17 612.67,242.33 612.00,243.00 C611.33,243.67 608.50,241.83 607.00,242.00 C605.50,242.17 603.92,244.67 603.00,244.00 C602.08,243.33 601.17,239.33 601.50,238.00Z" fill="#1fe48f"/>
<path d="M611.00,245.00 C611.58,243.50 614.75,241.83 616.00,243.00 C617.25,244.17 618.83,248.92 618.50,252.00 C618.17,255.08 615.42,260.50 614.00,261.50 C612.58,262.50 610.25,259.58 610.00,258.00 C609.75,256.42 612.33,254.17 612.50,252.00 C612.67,249.83 610.42,246.50 611.00,245.00Z" fill="#1fe48f"/>
<path d="M602.50,245.00 C603.08,244.58 604.75,242.58 606.00,242.50 C607.25,242.42 609.33,244.17 610.00,244.50" fill="none" stroke="#f2c418" stroke-width="1.1" stroke-linecap="round" filter="url(#eb05)"/>
<path d="M611.00,258.00 C611.33,258.67 612.67,261.33 613.00,262.00" fill="none" stroke="#f2c418" stroke-width="1.0" stroke-linecap="round" filter="url(#eb05)"/>
</g>
</g>
<path d="M598.40,219.35 C598.92,219.35 598.62,218.50 599.97,218.50 C601.33,218.50 604.30,218.69 606.52,219.35 C608.75,220.02 611.24,221.06 613.33,222.49 C615.43,223.92 617.57,225.81 619.10,227.91 C620.63,230.00 621.63,232.70 622.50,235.03 C623.38,237.36 623.99,239.45 624.34,241.87 C624.69,244.29 624.69,247.24 624.60,249.56 C624.51,251.89 624.38,253.60 623.81,255.84 C623.25,258.07 622.46,260.73 621.19,262.96 C619.93,265.19 618.22,267.47 616.22,269.23 C614.21,270.99 611.46,272.51 609.14,273.50 C606.83,274.50 603.95,274.88 602.33,275.21 C600.71,275.55 600.10,275.55 599.45,275.50 C598.79,275.45 598.75,274.93 598.40,274.93 C598.05,274.93 598.01,275.45 597.35,275.50 C596.70,275.55 596.09,275.55 594.47,275.21 C592.85,274.88 589.97,274.50 587.66,273.50 C585.34,272.51 582.59,270.99 580.58,269.23 C578.58,267.47 576.87,265.19 575.61,262.96 C574.34,260.73 573.55,258.07 572.99,255.84 C572.42,253.60 572.29,251.89 572.20,249.56 C572.11,247.24 572.11,244.29 572.46,241.87 C572.81,239.45 573.42,237.36 574.30,235.03 C575.17,232.70 576.17,230.00 577.70,227.91 C579.23,225.81 581.37,223.92 583.47,222.49 C585.56,221.06 588.05,220.02 590.28,219.35 C592.51,218.69 595.47,218.50 596.83,218.50 C598.18,218.50 597.88,219.35 598.40,219.35Z" fill="none" stroke="#111" stroke-width="1.8"/>
<clipPath id="eclip3"><path d="M655.10,219.35 C655.62,219.35 655.32,218.50 656.65,218.50 C657.99,218.50 660.93,218.69 663.13,219.35 C665.33,220.02 667.79,221.06 669.86,222.49 C671.94,223.92 674.05,225.81 675.56,227.91 C677.07,230.00 678.06,232.70 678.93,235.03 C679.79,237.36 680.40,239.45 680.74,241.87 C681.09,244.29 681.09,247.24 681.00,249.56 C680.91,251.89 680.78,253.60 680.22,255.84 C679.66,258.07 678.88,260.73 677.63,262.96 C676.38,265.19 674.70,267.47 672.71,269.23 C670.73,270.99 668.01,272.51 665.72,273.50 C663.43,274.50 660.58,274.88 658.99,275.21 C657.39,275.55 656.78,275.55 656.14,275.50 C655.49,275.45 655.45,274.93 655.10,274.93 C654.75,274.93 654.71,275.45 654.06,275.50 C653.42,275.55 652.81,275.55 651.22,275.21 C649.62,274.88 646.77,274.50 644.48,273.50 C642.19,272.51 639.47,270.99 637.49,269.23 C635.50,267.47 633.82,265.19 632.57,262.96 C631.32,260.73 630.54,258.07 629.98,255.84 C629.42,253.60 629.29,251.89 629.20,249.56 C629.11,247.24 629.11,244.29 629.46,241.87 C629.80,239.45 630.41,237.36 631.27,235.03 C632.14,232.70 633.13,230.00 634.64,227.91 C636.15,225.81 638.26,223.92 640.34,222.49 C642.41,221.06 644.87,220.02 647.07,219.35 C649.27,218.69 652.21,218.50 653.55,218.50 C654.88,218.50 654.58,219.35 655.10,219.35Z"/></clipPath>
<g clip-path="url(#eclip3)">
<rect x="627.2" y="216.5" width="55.799999999999955" height="61.0" fill="#ffffff"/>
<g filter="url(#eb08)"><ellipse cx="655.10" cy="247.00" rx="19.90" ry="26.50" fill="#0c0c0c"/>
<rect x="653.8000000000001" y="220" width="2.6" height="54" fill="#8c8c8c" filter="url(#eb09)"/>
<ellipse cx="646" cy="250.4" rx="6.3" ry="11.9" fill="#ababab" filter="url(#eb09)"/>
<ellipse cx="663.9" cy="250.7" rx="6" ry="10.1" fill="#ababab" filter="url(#eb09)"/>
</g>
<g filter="url(#eb05)" opacity="0.85">
<path d="M637.60,237.00 C638.17,236.00 639.77,232.50 641.00,231.00 C642.23,229.50 643.25,228.70 645.00,228.00 C646.75,227.30 650.42,227.00 651.50,226.80" fill="none" stroke="#14b4d2" stroke-width="1.0" stroke-linecap="round" filter="url(#eb05)"/>
<path d="M638.50,236.00 C638.67,234.83 640.42,231.17 642.00,230.00 C643.58,228.83 646.67,228.83 648.00,229.00 C649.33,229.17 650.50,230.50 650.00,231.00 C649.50,231.50 646.50,231.00 645.00,232.00 C643.50,233.00 642.08,236.33 641.00,237.00 C639.92,237.67 638.33,237.17 638.50,236.00Z" fill="#1fe48f"/>
<path d="M641.80,236.00 C642.47,235.25 645.30,234.33 647.00,234.50 C648.70,234.67 651.12,235.75 652.00,237.00 C652.88,238.25 653.13,241.33 652.30,242.00 C651.47,242.67 648.55,241.50 647.00,241.00 C645.45,240.50 643.87,239.83 643.00,239.00 C642.13,238.17 641.13,236.75 641.80,236.00Z" fill="#1fe48f"/>
<path d="M642.00,235.00 C642.83,234.83 645.50,233.83 647.00,234.00 C648.50,234.17 650.33,235.67 651.00,236.00" fill="none" stroke="#f2c418" stroke-width="0.9" stroke-linecap="round" filter="url(#eb05)"/>
<path d="M657.90,242.00 C657.92,242.50 657.98,244.50 658.00,245.00" fill="none" stroke="#f2c418" stroke-width="1.1" stroke-linecap="round" filter="url(#eb05)"/>
<path d="M641.00,259.00 C641.17,258.33 642.83,257.58 644.00,257.50 C645.17,257.42 647.50,257.83 648.00,258.50 C648.50,259.17 647.83,261.00 647.00,261.50 C646.17,262.00 644.00,261.92 643.00,261.50 C642.00,261.08 640.83,259.67 641.00,259.00Z" fill="#14b4d2"/>
<path d="M671.00,235.00 C671.30,235.92 672.50,239.58 672.80,240.50" fill="none" stroke="#1fe48f" stroke-width="1.8" stroke-linecap="round" filter="url(#eb05)"/>
<path d="M635.00,246.00 C634.92,247.50 634.17,252.33 634.50,255.00 C634.83,257.67 636.58,260.83 637.00,262.00" fill="none" stroke="#dc8c14" stroke-width="0.8" stroke-linecap="round" filter="url(#eb05)"/>
</g>
</g>
<path d="M655.10,219.35 C655.62,219.35 655.32,218.50 656.65,218.50 C657.99,218.50 660.93,218.69 663.13,219.35 C665.33,220.02 667.79,221.06 669.86,222.49 C671.94,223.92 674.05,225.81 675.56,227.91 C677.07,230.00 678.06,232.70 678.93,235.03 C679.79,237.36 680.40,239.45 680.74,241.87 C681.09,244.29 681.09,247.24 681.00,249.56 C680.91,251.89 680.78,253.60 680.22,255.84 C679.66,258.07 678.88,260.73 677.63,262.96 C676.38,265.19 674.70,267.47 672.71,269.23 C670.73,270.99 668.01,272.51 665.72,273.50 C663.43,274.50 660.58,274.88 658.99,275.21 C657.39,275.55 656.78,275.55 656.14,275.50 C655.49,275.45 655.45,274.93 655.10,274.93 C654.75,274.93 654.71,275.45 654.06,275.50 C653.42,275.55 652.81,275.55 651.22,275.21 C649.62,274.88 646.77,274.50 644.48,273.50 C642.19,272.51 639.47,270.99 637.49,269.23 C635.50,267.47 633.82,265.19 632.57,262.96 C631.32,260.73 630.54,258.07 629.98,255.84 C629.42,253.60 629.29,251.89 629.20,249.56 C629.11,247.24 629.11,244.29 629.46,241.87 C629.80,239.45 630.41,237.36 631.27,235.03 C632.14,232.70 633.13,230.00 634.64,227.91 C636.15,225.81 638.26,223.92 640.34,222.49 C642.41,221.06 644.87,220.02 647.07,219.35 C649.27,218.69 652.21,218.50 653.55,218.50 C654.88,218.50 654.58,219.35 655.10,219.35Z" fill="none" stroke="#111" stroke-width="1.8"/>
<clipPath id="eclip4"><path d="M541.20,293.02 C541.73,293.02 541.55,292.10 542.78,292.10 C544.02,292.10 546.66,292.51 548.59,293.02 C550.53,293.53 552.64,294.19 554.40,295.15 C556.16,296.12 557.74,297.29 559.15,298.82 C560.56,300.35 561.75,302.13 562.85,304.32 C563.95,306.51 565.00,308.90 565.75,311.96 C566.50,315.01 567.16,318.83 567.34,322.65 C567.51,326.47 567.38,331.31 566.81,334.87 C566.24,338.43 565.27,341.59 563.90,344.03 C562.54,346.48 560.65,348.16 558.62,349.53 C556.60,350.91 554.00,351.67 551.76,352.28 C549.52,352.89 546.70,353.05 545.16,353.20 C543.62,353.35 543.18,353.35 542.52,353.20 C541.86,353.05 541.64,352.28 541.20,352.28 C540.76,352.28 540.54,353.05 539.88,353.20 C539.22,353.35 538.78,353.35 537.24,353.20 C535.70,353.05 532.88,352.89 530.64,352.28 C528.40,351.67 525.80,350.91 523.78,349.53 C521.75,348.16 519.86,346.48 518.50,344.03 C517.13,341.59 516.16,338.43 515.59,334.87 C515.02,331.31 514.89,326.47 515.06,322.65 C515.24,318.83 515.90,315.01 516.65,311.96 C517.40,308.90 518.45,306.51 519.55,304.32 C520.65,302.13 521.84,300.35 523.25,298.82 C524.66,297.29 526.24,296.12 528.00,295.15 C529.76,294.19 531.87,293.53 533.81,293.02 C535.74,292.51 538.38,292.10 539.62,292.10 C540.85,292.10 540.67,293.02 541.20,293.02Z"/></clipPath>
<g clip-path="url(#eclip4)">
<rect x="512.8" y="290.1" width="56.80000000000007" height="65.09999999999997" fill="#ffffff"/>
<g filter="url(#eb08)"><ellipse cx="541.20" cy="322.65" rx="20.40" ry="28.55" fill="#0c0c0c"/>
<ellipse cx="541.2" cy="325" rx="17" ry="14" fill="#707070" filter="url(#eb2)"/>
<ellipse cx="533.2" cy="318" rx="6" ry="5" fill="#909090" filter="url(#eb1)"/>
<ellipse cx="549.2" cy="318" rx="6" ry="5" fill="#909090" filter="url(#eb1)"/>
<ellipse cx="528.2" cy="323" rx="3.5" ry="7" fill="#6c6c6c" filter="url(#eb1)"/>
<ellipse cx="554.2" cy="323" rx="3.5" ry="7" fill="#6c6c6c" filter="url(#eb1)"/>
<ellipse cx="541.2" cy="326" rx="3" ry="4" fill="#a0a0a0" filter="url(#eb1)"/>
<ellipse cx="531.2" cy="304" rx="11" ry="8" fill="#040404" filter="url(#eb2)"/>
<ellipse cx="551.2" cy="304" rx="11" ry="8" fill="#040404" filter="url(#eb2)"/>
<rect x="540.45" y="298" width="1.5" height="52" fill="#a8a8a8" filter="url(#eb09)"/>
<ellipse cx="529.2" cy="333" rx="5" ry="5" fill="#f4f4f4" filter="url(#eb09)"/>
<ellipse cx="553.2" cy="333" rx="5.2" ry="5.2" fill="#eeeeee" filter="url(#eb09)"/>
<ellipse cx="521.7" cy="325" rx="2.5" ry="12" fill="#080808" filter="url(#eb1)"/>
<ellipse cx="560.7" cy="325" rx="2.5" ry="12" fill="#080808" filter="url(#eb1)"/>
<ellipse cx="531.2" cy="346" rx="8" ry="3.5" fill="#101010" filter="url(#eb2)"/>
<ellipse cx="551.2" cy="346" rx="8" ry="3.5" fill="#101010" filter="url(#eb2)"/>
<ellipse cx="541.2" cy="343" rx="2.5" ry="7" fill="#8a8a8a" filter="url(#eb1)"/>
<ellipse cx="536.2" cy="342" rx="1.5" ry="5" fill="#555" filter="url(#eb09)"/>
<ellipse cx="546.2" cy="342" rx="1.5" ry="5" fill="#555" filter="url(#eb09)"/>
</g>
<g filter="url(#eb05)" opacity="0.85">
<path d="M522.50,305.00 C523.00,304.08 525.00,300.42 525.50,299.50" fill="none" stroke="#1fe48f" stroke-width="2.2" stroke-linecap="round" filter="url(#eb05)"/>
<path d="M546.00,306.00 C546.50,305.50 548.50,303.50 549.00,303.00" fill="none" stroke="#f2c418" stroke-width="1.4" stroke-linecap="round" filter="url(#eb05)"/>
<path d="M554.50,300.00 C554.92,300.83 556.42,303.17 557.00,305.00 C557.58,306.83 557.83,310.00 558.00,311.00" fill="none" stroke="#f2c418" stroke-width="1.6" stroke-linecap="round" filter="url(#eb05)"/>
<path d="M556.00,305.00 C556.42,305.67 558.08,308.33 558.50,309.00" fill="none" stroke="#1fe48f" stroke-width="0.9" stroke-linecap="round" filter="url(#eb05)"/>
<path d="M523.00,326.00 C523.33,327.00 524.17,330.17 525.00,332.00 C525.83,333.83 527.50,336.17 528.00,337.00" fill="none" stroke="#1fe48f" stroke-width="2.2" stroke-linecap="round" filter="url(#eb05)"/>
<path d="M524.00,330.00 C524.50,331.08 525.75,335.33 527.00,336.50 C528.25,337.67 530.75,336.92 531.50,337.00" fill="none" stroke="#f2c418" stroke-width="1.2" stroke-linecap="round" filter="url(#eb05)"/>
<path d="M532.00,327.00 C532.42,328.00 534.00,331.17 534.50,333.00 C535.00,334.83 534.92,337.17 535.00,338.00" fill="none" stroke="#f2c418" stroke-width="1.0" stroke-linecap="round" filter="url(#eb05)"/>
<path d="M536.00,339.00 C536.25,339.67 537.25,342.33 537.50,343.00" fill="none" stroke="#1fe48f" stroke-width="1.4" stroke-linecap="round" filter="url(#eb05)"/>
<path d="M519.00,320.00 C518.83,320.83 518.17,324.17 518.00,325.00" fill="none" stroke="#f2c418" stroke-width="0.9" stroke-linecap="round" filter="url(#eb05)"/>
<path d="M561.00,322.00 C561.17,322.83 561.83,326.17 562.00,327.00" fill="none" stroke="#14b4d2" stroke-width="0.8" stroke-linecap="round" filter="url(#eb05)"/>
</g>
</g>
<path d="M541.20,293.02 C541.73,293.02 541.55,292.10 542.78,292.10 C544.02,292.10 546.66,292.51 548.59,293.02 C550.53,293.53 552.64,294.19 554.40,295.15 C556.16,296.12 557.74,297.29 559.15,298.82 C560.56,300.35 561.75,302.13 562.85,304.32 C563.95,306.51 565.00,308.90 565.75,311.96 C566.50,315.01 567.16,318.83 567.34,322.65 C567.51,326.47 567.38,331.31 566.81,334.87 C566.24,338.43 565.27,341.59 563.90,344.03 C562.54,346.48 560.65,348.16 558.62,349.53 C556.60,350.91 554.00,351.67 551.76,352.28 C549.52,352.89 546.70,353.05 545.16,353.20 C543.62,353.35 543.18,353.35 542.52,353.20 C541.86,353.05 541.64,352.28 541.20,352.28 C540.76,352.28 540.54,353.05 539.88,353.20 C539.22,353.35 538.78,353.35 537.24,353.20 C535.70,353.05 532.88,352.89 530.64,352.28 C528.40,351.67 525.80,350.91 523.78,349.53 C521.75,348.16 519.86,346.48 518.50,344.03 C517.13,341.59 516.16,338.43 515.59,334.87 C515.02,331.31 514.89,326.47 515.06,322.65 C515.24,318.83 515.90,315.01 516.65,311.96 C517.40,308.90 518.45,306.51 519.55,304.32 C520.65,302.13 521.84,300.35 523.25,298.82 C524.66,297.29 526.24,296.12 528.00,295.15 C529.76,294.19 531.87,293.53 533.81,293.02 C535.74,292.51 538.38,292.10 539.62,292.10 C540.85,292.10 540.67,293.02 541.20,293.02Z" fill="none" stroke="#111" stroke-width="1.8"/>
<clipPath id="eclip5"><path d="M597.30,293.02 C597.83,293.02 597.65,292.10 598.88,292.10 C600.11,292.10 602.74,292.51 604.66,293.02 C606.59,293.53 608.70,294.19 610.45,295.15 C612.20,296.12 613.78,297.29 615.18,298.82 C616.59,300.35 617.77,302.13 618.87,304.32 C619.96,306.51 621.01,308.90 621.76,311.96 C622.50,315.01 623.16,318.83 623.34,322.65 C623.51,326.47 623.38,331.31 622.81,334.87 C622.24,338.43 621.28,341.59 619.92,344.03 C618.56,346.48 616.67,348.16 614.66,349.53 C612.64,350.91 610.06,351.67 607.82,352.28 C605.58,352.89 602.78,353.05 601.25,353.20 C599.71,353.35 599.27,353.35 598.62,353.20 C597.96,353.05 597.74,352.28 597.30,352.28 C596.86,352.28 596.64,353.05 595.98,353.20 C595.33,353.35 594.89,353.35 593.35,353.20 C591.82,353.05 589.02,352.89 586.78,352.28 C584.54,351.67 581.96,350.91 579.94,349.53 C577.93,348.16 576.04,346.48 574.68,344.03 C573.32,341.59 572.36,338.43 571.79,334.87 C571.22,331.31 571.09,326.47 571.26,322.65 C571.44,318.83 572.10,315.01 572.84,311.96 C573.59,308.90 574.64,306.51 575.73,304.32 C576.83,302.13 578.01,300.35 579.42,298.82 C580.82,297.29 582.40,296.12 584.15,295.15 C585.90,294.19 588.01,293.53 589.94,293.02 C591.86,292.51 594.49,292.10 595.72,292.10 C596.95,292.10 596.77,293.02 597.30,293.02Z"/></clipPath>
<g clip-path="url(#eclip5)">
<rect x="569.0" y="290.1" width="56.60000000000002" height="65.09999999999997" fill="#ffffff"/>
<g filter="url(#eb08)"><ellipse cx="597.30" cy="322.65" rx="20.30" ry="28.55" fill="#0c0c0c"/>
<ellipse cx="597.3" cy="325" rx="17" ry="14" fill="#707070" filter="url(#eb2)"/>
<ellipse cx="589.3" cy="318" rx="6" ry="5" fill="#909090" filter="url(#eb1)"/>
<ellipse cx="605.3" cy="318" rx="6" ry="5" fill="#909090" filter="url(#eb1)"/>
<ellipse cx="584.3" cy="323" rx="3.5" ry="7" fill="#6c6c6c" filter="url(#eb1)"/>
<ellipse cx="610.3" cy="323" rx="3.5" ry="7" fill="#6c6c6c" filter="url(#eb1)"/>
<ellipse cx="597.3" cy="326" rx="3" ry="4" fill="#a0a0a0" filter="url(#eb1)"/>
<ellipse cx="587.3" cy="304" rx="11" ry="8" fill="#040404" filter="url(#eb2)"/>
<ellipse cx="607.3" cy="304" rx="11" ry="8" fill="#040404" filter="url(#eb2)"/>
<rect x="596.55" y="298" width="1.5" height="52" fill="#a8a8a8" filter="url(#eb09)"/>
<ellipse cx="585.3" cy="333" rx="5" ry="5" fill="#f4f4f4" filter="url(#eb09)"/>
<ellipse cx="609.3" cy="333" rx="5.2" ry="5.2" fill="#eeeeee" filter="url(#eb09)"/>
<ellipse cx="577.8" cy="325" rx="2.5" ry="12" fill="#080808" filter="url(#eb1)"/>
<ellipse cx="616.8" cy="325" rx="2.5" ry="12" fill="#080808" filter="url(#eb1)"/>
<ellipse cx="587.3" cy="346" rx="8" ry="3.5" fill="#101010" filter="url(#eb2)"/>
<ellipse cx="607.3" cy="346" rx="8" ry="3.5" fill="#101010" filter="url(#eb2)"/>
<ellipse cx="597.3" cy="343" rx="2.5" ry="7" fill="#8a8a8a" filter="url(#eb1)"/>
<ellipse cx="592.3" cy="342" rx="1.5" ry="5" fill="#555" filter="url(#eb09)"/>
<ellipse cx="602.3" cy="342" rx="1.5" ry="5" fill="#555" filter="url(#eb09)"/>
</g>
<g filter="url(#eb05)" opacity="0.85">
<path d="M588.00,305.00 C588.50,304.17 590.75,303.50 592.00,304.00 C593.25,304.50 595.17,306.75 595.50,308.00 C595.83,309.25 595.08,311.33 594.00,311.50 C592.92,311.67 590.00,310.08 589.00,309.00 C588.00,307.92 587.50,305.83 588.00,305.00Z" fill="#1fe48f"/>
<path d="M588.50,310.00 C589.50,310.33 593.50,311.67 594.50,312.00" fill="none" stroke="#f2c418" stroke-width="1.0" stroke-linecap="round" filter="url(#eb05)"/>
<path d="M581.50,300.00 C581.92,301.00 583.58,305.00 584.00,306.00" fill="none" stroke="#1fe48f" stroke-width="1.6" stroke-linecap="round" filter="url(#eb05)"/>
<path d="M580.50,326.00 C581.17,325.25 583.75,324.33 585.00,324.50 C586.25,324.67 587.83,326.08 588.00,327.00 C588.17,327.92 587.17,329.67 586.00,330.00 C584.83,330.33 581.92,329.67 581.00,329.00 C580.08,328.33 579.83,326.75 580.50,326.00Z" fill="#1fe48f"/>
<path d="M580.60,335.00 C581.17,335.67 582.65,338.25 584.00,339.00 C585.35,339.75 587.92,339.42 588.70,339.50" fill="none" stroke="#f2c418" stroke-width="1.3" stroke-linecap="round" filter="url(#eb05)"/>
<path d="M611.00,319.00 C611.25,320.33 612.42,324.33 612.50,327.00 C612.58,329.67 611.67,333.67 611.50,335.00" fill="none" stroke="#1fe48f" stroke-width="2.6" stroke-linecap="round" filter="url(#eb05)"/>
<path d="M608.00,334.00 C608.42,334.67 610.08,337.33 610.50,338.00" fill="none" stroke="#f2c418" stroke-width="1.0" stroke-linecap="round" filter="url(#eb05)"/>
<path d="M602.00,337.00 C602.08,337.67 602.42,340.33 602.50,341.00" fill="none" stroke="#1fe48f" stroke-width="1.3" stroke-linecap="round" filter="url(#eb05)"/>
<path d="M600.00,330.00 C600.08,330.50 600.42,332.50 600.50,333.00" fill="none" stroke="#f2c418" stroke-width="1.0" stroke-linecap="round" filter="url(#eb05)"/>
<path d="M578.00,322.00 C577.92,322.83 577.58,326.17 577.50,327.00" fill="none" stroke="#14b4d2" stroke-width="0.8" stroke-linecap="round" filter="url(#eb05)"/>
</g>
</g>
<path d="M597.30,293.02 C597.83,293.02 597.65,292.10 598.88,292.10 C600.11,292.10 602.74,292.51 604.66,293.02 C606.59,293.53 608.70,294.19 610.45,295.15 C612.20,296.12 613.78,297.29 615.18,298.82 C616.59,300.35 617.77,302.13 618.87,304.32 C619.96,306.51 621.01,308.90 621.76,311.96 C622.50,315.01 623.16,318.83 623.34,322.65 C623.51,326.47 623.38,331.31 622.81,334.87 C622.24,338.43 621.28,341.59 619.92,344.03 C618.56,346.48 616.67,348.16 614.66,349.53 C612.64,350.91 610.06,351.67 607.82,352.28 C605.58,352.89 602.78,353.05 601.25,353.20 C599.71,353.35 599.27,353.35 598.62,353.20 C597.96,353.05 597.74,352.28 597.30,352.28 C596.86,352.28 596.64,353.05 595.98,353.20 C595.33,353.35 594.89,353.35 593.35,353.20 C591.82,353.05 589.02,352.89 586.78,352.28 C584.54,351.67 581.96,350.91 579.94,349.53 C577.93,348.16 576.04,346.48 574.68,344.03 C573.32,341.59 572.36,338.43 571.79,334.87 C571.22,331.31 571.09,326.47 571.26,322.65 C571.44,318.83 572.10,315.01 572.84,311.96 C573.59,308.90 574.64,306.51 575.73,304.32 C576.83,302.13 578.01,300.35 579.42,298.82 C580.82,297.29 582.40,296.12 584.15,295.15 C585.90,294.19 588.01,293.53 589.94,293.02 C591.86,292.51 594.49,292.10 595.72,292.10 C596.95,292.10 596.77,293.02 597.30,293.02Z" fill="none" stroke="#111" stroke-width="1.8"/>
<clipPath id="eclip6"><path d="M652.90,293.02 C653.42,293.02 653.25,292.10 654.47,292.10 C655.69,292.10 658.31,292.51 660.24,293.02 C662.16,293.53 664.25,294.19 666.00,295.15 C667.75,296.12 669.32,297.29 670.72,298.82 C672.11,300.35 673.29,302.13 674.38,304.32 C675.48,306.51 676.52,308.90 677.27,311.96 C678.01,315.01 678.66,318.83 678.84,322.65 C679.01,326.47 678.88,331.31 678.31,334.87 C677.75,338.43 676.79,341.59 675.43,344.03 C674.08,346.48 672.20,348.16 670.19,349.53 C668.18,350.91 665.61,351.67 663.38,352.28 C661.15,352.89 658.36,353.05 656.83,353.20 C655.30,353.35 654.87,353.35 654.21,353.20 C653.56,353.05 653.34,352.28 652.90,352.28 C652.46,352.28 652.25,353.05 651.59,353.20 C650.94,353.35 650.50,353.35 648.97,353.20 C647.44,353.05 644.65,352.89 642.42,352.28 C640.19,351.67 637.62,350.91 635.61,349.53 C633.60,348.16 631.72,346.48 630.37,344.03 C629.01,341.59 628.05,338.43 627.49,334.87 C626.92,331.31 626.79,326.47 626.96,322.65 C627.14,318.83 627.79,315.01 628.53,311.96 C629.28,308.90 630.32,306.51 631.42,304.32 C632.51,302.13 633.69,300.35 635.08,298.82 C636.48,297.29 638.05,296.12 639.80,295.15 C641.55,294.19 643.64,293.53 645.56,293.02 C647.49,292.51 650.11,292.10 651.33,292.10 C652.55,292.10 652.38,293.02 652.90,293.02Z"/></clipPath>
<g clip-path="url(#eclip6)">
<rect x="624.7" y="290.1" width="56.39999999999998" height="65.09999999999997" fill="#ffffff"/>
<g filter="url(#eb08)"><ellipse cx="652.90" cy="322.65" rx="20.20" ry="28.55" fill="#0c0c0c"/>
<ellipse cx="652.9000000000001" cy="325" rx="17" ry="14" fill="#707070" filter="url(#eb2)"/>
<ellipse cx="644.9000000000001" cy="318" rx="6" ry="5" fill="#909090" filter="url(#eb1)"/>
<ellipse cx="660.9000000000001" cy="318" rx="6" ry="5" fill="#909090" filter="url(#eb1)"/>
<ellipse cx="639.9000000000001" cy="323" rx="3.5" ry="7" fill="#6c6c6c" filter="url(#eb1)"/>
<ellipse cx="665.9000000000001" cy="323" rx="3.5" ry="7" fill="#6c6c6c" filter="url(#eb1)"/>
<ellipse cx="652.9000000000001" cy="326" rx="3" ry="4" fill="#a0a0a0" filter="url(#eb1)"/>
<ellipse cx="642.9000000000001" cy="304" rx="11" ry="8" fill="#040404" filter="url(#eb2)"/>
<ellipse cx="662.9000000000001" cy="304" rx="11" ry="8" fill="#040404" filter="url(#eb2)"/>
<rect x="652.1500000000001" y="298" width="1.5" height="52" fill="#a8a8a8" filter="url(#eb09)"/>
<ellipse cx="640.9000000000001" cy="333" rx="5" ry="5" fill="#f4f4f4" filter="url(#eb09)"/>
<ellipse cx="664.9000000000001" cy="333" rx="5.2" ry="5.2" fill="#eeeeee" filter="url(#eb09)"/>
<ellipse cx="633.4000000000001" cy="325" rx="2.5" ry="12" fill="#080808" filter="url(#eb1)"/>
<ellipse cx="672.4000000000001" cy="325" rx="2.5" ry="12" fill="#080808" filter="url(#eb1)"/>
<ellipse cx="642.9000000000001" cy="346" rx="8" ry="3.5" fill="#101010" filter="url(#eb2)"/>
<ellipse cx="662.9000000000001" cy="346" rx="8" ry="3.5" fill="#101010" filter="url(#eb2)"/>
<ellipse cx="652.9000000000001" cy="343" rx="2.5" ry="7" fill="#8a8a8a" filter="url(#eb1)"/>
<ellipse cx="647.9000000000001" cy="342" rx="1.5" ry="5" fill="#555" filter="url(#eb09)"/>
<ellipse cx="657.9000000000001" cy="342" rx="1.5" ry="5" fill="#555" filter="url(#eb09)"/>
</g>
<g filter="url(#eb05)" opacity="0.85">
<path d="M637.50,302.00 C637.25,301.17 639.08,298.50 640.00,298.00 C640.92,297.50 642.75,298.17 643.00,299.00 C643.25,299.83 642.42,302.50 641.50,303.00 C640.58,303.50 637.75,302.83 637.50,302.00Z" fill="#1fe48f"/>
<path d="M639.00,308.50 C638.67,309.75 637.33,314.75 637.00,316.00" fill="none" stroke="#f2c418" stroke-width="1.3" stroke-linecap="round" filter="url(#eb05)"/>
<path d="M653.60,311.70 C653.37,310.85 654.90,308.42 655.90,307.30 C656.90,306.18 658.62,304.88 659.60,305.00 C660.58,305.12 661.07,308.12 661.80,308.00 C662.53,307.88 663.27,305.42 664.00,304.30 C664.73,303.18 665.22,301.55 666.20,301.30 C667.18,301.05 669.53,301.57 669.90,302.80 C670.27,304.03 669.13,307.10 668.40,308.70 C667.67,310.30 666.73,311.98 665.50,312.40 C664.27,312.82 662.37,311.20 661.00,311.20 C659.63,311.20 658.53,312.32 657.30,312.40 C656.07,312.48 653.83,312.55 653.60,311.70Z" fill="#1fe48f"/>
<path d="M666.50,302.00 C666.92,302.83 668.58,306.17 669.00,307.00" fill="none" stroke="#1fe48f" stroke-width="1.6" stroke-linecap="round" filter="url(#eb05)"/>
<path d="M665.50,321.00 C665.92,321.42 667.58,323.08 668.00,323.50" fill="none" stroke="#f2c418" stroke-width="1.0" stroke-linecap="round" filter="url(#eb05)"/>
<path d="M664.50,327.00 C665.00,327.83 667.00,331.17 667.50,332.00" fill="none" stroke="#1fe48f" stroke-width="1.8" stroke-linecap="round" filter="url(#eb05)"/>
<path d="M673.50,325.00 C673.67,326.83 674.33,334.17 674.50,336.00" fill="none" stroke="#14b4d2" stroke-width="1.1" stroke-linecap="round" filter="url(#eb05)"/>
<path d="M636.50,331.00 C636.75,332.00 637.75,336.00 638.00,337.00" fill="none" stroke="#f2c418" stroke-width="1.1" stroke-linecap="round" filter="url(#eb05)"/>
<path d="M654.00,333.00 C654.58,334.08 656.92,338.42 657.50,339.50" fill="none" stroke="#1fe48f" stroke-width="1.4" stroke-linecap="round" filter="url(#eb05)"/>
<path d="M660.00,331.00 C660.17,332.00 660.83,336.00 661.00,337.00" fill="none" stroke="#f2c418" stroke-width="1.0" stroke-linecap="round" filter="url(#eb05)"/>
</g>
</g>
<path d="M652.90,293.02 C653.42,293.02 653.25,292.10 654.47,292.10 C655.69,292.10 658.31,292.51 660.24,293.02 C662.16,293.53 664.25,294.19 666.00,295.15 C667.75,296.12 669.32,297.29 670.72,298.82 C672.11,300.35 673.29,302.13 674.38,304.32 C675.48,306.51 676.52,308.90 677.27,311.96 C678.01,315.01 678.66,318.83 678.84,322.65 C679.01,326.47 678.88,331.31 678.31,334.87 C677.75,338.43 676.79,341.59 675.43,344.03 C674.08,346.48 672.20,348.16 670.19,349.53 C668.18,350.91 665.61,351.67 663.38,352.28 C661.15,352.89 658.36,353.05 656.83,353.20 C655.30,353.35 654.87,353.35 654.21,353.20 C653.56,353.05 653.34,352.28 652.90,352.28 C652.46,352.28 652.25,353.05 651.59,353.20 C650.94,353.35 650.50,353.35 648.97,353.20 C647.44,353.05 644.65,352.89 642.42,352.28 C640.19,351.67 637.62,350.91 635.61,349.53 C633.60,348.16 631.72,346.48 630.37,344.03 C629.01,341.59 628.05,338.43 627.49,334.87 C626.92,331.31 626.79,326.47 626.96,322.65 C627.14,318.83 627.79,315.01 628.53,311.96 C629.28,308.90 630.32,306.51 631.42,304.32 C632.51,302.13 633.69,300.35 635.08,298.82 C636.48,297.29 638.05,296.12 639.80,295.15 C641.55,294.19 643.64,293.53 645.56,293.02 C647.49,292.51 650.11,292.10 651.33,292.10 C652.55,292.10 652.38,293.02 652.90,293.02Z" fill="none" stroke="#111" stroke-width="1.8"/>
<clipPath id="eclip7"><path d="M541.80,368.60 C542.35,368.60 542.21,367.66 543.44,367.60 C544.68,367.54 547.10,367.66 549.20,368.26 C551.30,368.87 553.95,369.81 556.05,371.25 C558.15,372.69 560.16,374.52 561.80,376.90 C563.45,379.28 564.82,382.21 565.91,385.53 C567.01,388.85 567.92,393.16 568.38,396.82 C568.83,400.47 568.88,404.01 568.65,407.44 C568.42,410.87 567.97,414.30 567.01,417.40 C566.05,420.50 564.82,423.65 562.90,426.03 C560.98,428.41 558.10,430.40 555.50,431.68 C552.90,432.95 549.34,433.28 547.28,433.67 C545.22,434.06 544.08,434.11 543.17,434.00 C542.26,433.89 542.26,433.00 541.80,433.00 C541.34,433.00 541.34,433.89 540.43,434.00 C539.52,434.11 538.38,434.06 536.32,433.67 C534.26,433.28 530.70,432.95 528.10,431.68 C525.50,430.40 522.62,428.41 520.70,426.03 C518.78,423.65 517.55,420.50 516.59,417.40 C515.63,414.30 515.18,410.87 514.95,407.44 C514.72,404.01 514.77,400.47 515.22,396.82 C515.68,393.16 516.59,388.85 517.69,385.53 C518.78,382.21 520.15,379.28 521.80,376.90 C523.44,374.52 525.45,372.69 527.55,371.25 C529.65,369.81 532.30,368.87 534.40,368.26 C536.50,367.66 538.92,367.54 540.16,367.60 C541.39,367.66 541.25,368.60 541.80,368.60Z"/></clipPath>
<g clip-path="url(#eclip7)">
<rect x="512.4" y="365.6" width="58.80000000000007" height="70.39999999999998" fill="#ffffff"/>
<g filter="url(#eb08)"><ellipse cx="541.80" cy="400.80" rx="21.40" ry="31.20" fill="#0c0c0c"/>
<ellipse cx="541.8" cy="402" rx="18" ry="19" fill="#646464" filter="url(#eb2)"/>
<ellipse cx="531.8" cy="380" rx="10" ry="8" fill="#060606" filter="url(#eb2)"/>
<ellipse cx="551.8" cy="380" rx="10" ry="8" fill="#060606" filter="url(#eb2)"/>
<rect x="541.0999999999999" y="370" width="1.4" height="62" fill="#808080" filter="url(#eb09)"/>
<ellipse cx="533.8" cy="394" rx="5" ry="6" fill="#8a8a8a" filter="url(#eb1)"/>
<ellipse cx="549.8" cy="394" rx="5" ry="6" fill="#8a8a8a" filter="url(#eb1)"/>
<ellipse cx="526.8" cy="400" rx="3.5" ry="9" fill="#6a6a6a" filter="url(#eb1)"/>
<ellipse cx="556.8" cy="400" rx="3.5" ry="9" fill="#6a6a6a" filter="url(#eb1)"/>
<ellipse cx="530.8" cy="411" rx="5" ry="6" fill="#a0a0a0" filter="url(#eb1)"/>
<ellipse cx="551.8" cy="411" rx="5" ry="6" fill="#a0a0a0" filter="url(#eb1)"/>
<ellipse cx="521.8" cy="402" rx="2.5" ry="12" fill="#0c0c0c" filter="url(#eb1)"/>
<ellipse cx="561.8" cy="402" rx="2.5" ry="12" fill="#0c0c0c" filter="url(#eb1)"/>
<ellipse cx="532.8" cy="425" rx="8" ry="4" fill="#101010" filter="url(#eb2)"/>
<ellipse cx="550.8" cy="425" rx="8" ry="4" fill="#101010" filter="url(#eb2)"/>
<ellipse cx="541.8" cy="424" rx="2.5" ry="7" fill="#707070" filter="url(#eb1)"/>
</g>
<g filter="url(#eb05)" opacity="0.85">
<path d="M527.00,388.00 C526.92,388.83 526.58,392.17 526.50,393.00" fill="none" stroke="#1fe48f" stroke-width="1.1" stroke-linecap="round" filter="url(#eb05)"/>
<path d="M532.00,383.00 C532.08,383.50 532.42,385.50 532.50,386.00" fill="none" stroke="#f2c418" stroke-width="0.9" stroke-linecap="round" filter="url(#eb05)"/>
<path d="M528.00,401.00 C528.33,402.00 529.67,405.17 530.00,407.00 C530.33,408.83 530.00,411.17 530.00,412.00" fill="none" stroke="#1fe48f" stroke-width="2.0" stroke-linecap="round" filter="url(#eb05)"/>
<path d="M532.00,405.00 C531.83,406.00 531.17,410.00 531.00,411.00" fill="none" stroke="#1fe48f" stroke-width="0.9" stroke-linecap="round" filter="url(#eb05)"/>
<path d="M538.50,410.00 C538.67,411.17 539.33,415.83 539.50,417.00" fill="none" stroke="#1fe48f" stroke-width="1.3" stroke-linecap="round" filter="url(#eb05)"/>
<path d="M539.00,411.00 C539.17,412.17 539.83,416.83 540.00,418.00" fill="none" stroke="#f2c418" stroke-width="0.6" stroke-linecap="round" filter="url(#eb05)"/>
<path d="M556.00,387.00 C556.17,388.50 556.00,393.50 557.00,396.00 C558.00,398.50 561.17,401.00 562.00,402.00" fill="none" stroke="#1fe48f" stroke-width="1.6" stroke-linecap="round" filter="url(#eb05)"/>
<path d="M558.00,393.00 C558.50,394.17 560.17,398.17 561.00,400.00 C561.83,401.83 562.67,403.33 563.00,404.00" fill="none" stroke="#f2c418" stroke-width="0.8" stroke-linecap="round" filter="url(#eb05)"/>
<path d="M554.50,406.00 C554.75,406.50 555.75,408.50 556.00,409.00" fill="none" stroke="#dc8c14" stroke-width="0.9" stroke-linecap="round" filter="url(#eb05)"/>
<path d="M543.00,389.00 C543.08,389.67 543.42,392.33 543.50,393.00" fill="none" stroke="#14b4d2" stroke-width="0.9" stroke-linecap="round" filter="url(#eb05)"/>
<path d="M519.00,413.00 C519.33,413.67 520.67,416.33 521.00,417.00" fill="none" stroke="#14b4d2" stroke-width="0.9" stroke-linecap="round" filter="url(#eb05)"/>
</g>
</g>
<path d="M541.80,368.60 C542.35,368.60 542.21,367.66 543.44,367.60 C544.68,367.54 547.10,367.66 549.20,368.26 C551.30,368.87 553.95,369.81 556.05,371.25 C558.15,372.69 560.16,374.52 561.80,376.90 C563.45,379.28 564.82,382.21 565.91,385.53 C567.01,388.85 567.92,393.16 568.38,396.82 C568.83,400.47 568.88,404.01 568.65,407.44 C568.42,410.87 567.97,414.30 567.01,417.40 C566.05,420.50 564.82,423.65 562.90,426.03 C560.98,428.41 558.10,430.40 555.50,431.68 C552.90,432.95 549.34,433.28 547.28,433.67 C545.22,434.06 544.08,434.11 543.17,434.00 C542.26,433.89 542.26,433.00 541.80,433.00 C541.34,433.00 541.34,433.89 540.43,434.00 C539.52,434.11 538.38,434.06 536.32,433.67 C534.26,433.28 530.70,432.95 528.10,431.68 C525.50,430.40 522.62,428.41 520.70,426.03 C518.78,423.65 517.55,420.50 516.59,417.40 C515.63,414.30 515.18,410.87 514.95,407.44 C514.72,404.01 514.77,400.47 515.22,396.82 C515.68,393.16 516.59,388.85 517.69,385.53 C518.78,382.21 520.15,379.28 521.80,376.90 C523.44,374.52 525.45,372.69 527.55,371.25 C529.65,369.81 532.30,368.87 534.40,368.26 C536.50,367.66 538.92,367.54 540.16,367.60 C541.39,367.66 541.25,368.60 541.80,368.60Z" fill="none" stroke="#111" stroke-width="1.8"/>
<clipPath id="eclip8"><path d="M597.75,368.60 C598.27,368.60 598.14,367.66 599.30,367.60 C600.46,367.54 602.75,367.66 604.73,368.26 C606.71,368.87 609.21,369.81 611.19,371.25 C613.17,372.69 615.07,374.52 616.62,376.90 C618.17,379.28 619.46,382.21 620.50,385.53 C621.53,388.85 622.39,393.16 622.82,396.82 C623.26,400.47 623.30,404.01 623.08,407.44 C622.87,410.87 622.44,414.30 621.53,417.40 C620.63,420.50 619.46,423.65 617.65,426.03 C615.85,428.41 613.13,430.40 610.67,431.68 C608.22,432.95 604.86,433.28 602.92,433.67 C600.98,434.06 599.90,434.11 599.04,434.00 C598.18,433.89 598.18,433.00 597.75,433.00 C597.32,433.00 597.32,433.89 596.46,434.00 C595.60,434.11 594.52,434.06 592.58,433.67 C590.64,433.28 587.28,432.95 584.83,431.68 C582.37,430.40 579.65,428.41 577.85,426.03 C576.04,423.65 574.87,420.50 573.97,417.40 C573.06,414.30 572.63,410.87 572.42,407.44 C572.20,404.01 572.24,400.47 572.68,396.82 C573.11,393.16 573.97,388.85 575.00,385.53 C576.04,382.21 577.33,379.28 578.88,376.90 C580.43,374.52 582.33,372.69 584.31,371.25 C586.29,369.81 588.79,368.87 590.77,368.26 C592.75,367.66 595.04,367.54 596.20,367.60 C597.36,367.66 597.23,368.60 597.75,368.60Z"/></clipPath>
<g clip-path="url(#eclip8)">
<rect x="569.9" y="365.6" width="55.700000000000045" height="70.39999999999998" fill="#ffffff"/>
<g filter="url(#eb08)"><ellipse cx="597.75" cy="400.80" rx="19.85" ry="31.20" fill="#0c0c0c"/>
<ellipse cx="597.75" cy="402" rx="18" ry="19" fill="#646464" filter="url(#eb2)"/>
<ellipse cx="587.75" cy="380" rx="10" ry="8" fill="#060606" filter="url(#eb2)"/>
<ellipse cx="607.75" cy="380" rx="10" ry="8" fill="#060606" filter="url(#eb2)"/>
<rect x="597.05" y="370" width="1.4" height="62" fill="#808080" filter="url(#eb09)"/>
<ellipse cx="589.75" cy="394" rx="5" ry="6" fill="#8a8a8a" filter="url(#eb1)"/>
<ellipse cx="605.75" cy="394" rx="5" ry="6" fill="#8a8a8a" filter="url(#eb1)"/>
<ellipse cx="582.75" cy="400" rx="3.5" ry="9" fill="#6a6a6a" filter="url(#eb1)"/>
<ellipse cx="612.75" cy="400" rx="3.5" ry="9" fill="#6a6a6a" filter="url(#eb1)"/>
<ellipse cx="586.75" cy="411" rx="5" ry="6" fill="#a0a0a0" filter="url(#eb1)"/>
<ellipse cx="607.75" cy="411" rx="5" ry="6" fill="#a0a0a0" filter="url(#eb1)"/>
<ellipse cx="577.75" cy="402" rx="2.5" ry="12" fill="#0c0c0c" filter="url(#eb1)"/>
<ellipse cx="617.75" cy="402" rx="2.5" ry="12" fill="#0c0c0c" filter="url(#eb1)"/>
<ellipse cx="588.75" cy="425" rx="8" ry="4" fill="#101010" filter="url(#eb2)"/>
<ellipse cx="606.75" cy="425" rx="8" ry="4" fill="#101010" filter="url(#eb2)"/>
<ellipse cx="597.75" cy="424" rx="2.5" ry="7" fill="#707070" filter="url(#eb1)"/>
</g>
<g filter="url(#eb05)" opacity="0.85">
<path d="M584.00,383.00 C583.83,384.17 583.33,388.00 583.00,390.00 C582.67,392.00 582.17,394.17 582.00,395.00" fill="none" stroke="#1fe48f" stroke-width="1.6" stroke-linecap="round" filter="url(#eb05)"/>
<path d="M585.00,383.00 C584.92,383.83 584.58,387.17 584.50,388.00" fill="none" stroke="#f2c418" stroke-width="0.9" stroke-linecap="round" filter="url(#eb05)"/>
<path d="M610.50,388.00 C610.83,386.50 612.25,386.00 613.00,387.00 C613.75,388.00 614.83,392.08 615.00,394.00 C615.17,395.92 614.67,398.17 614.00,398.50 C613.33,398.83 611.58,397.75 611.00,396.00 C610.42,394.25 610.17,389.50 610.50,388.00Z" fill="#1fe48f"/>
<path d="M609.50,390.00 C609.67,391.17 610.33,395.83 610.50,397.00" fill="none" stroke="#f2c418" stroke-width="0.8" stroke-linecap="round" filter="url(#eb05)"/>
<path d="M605.00,380.50 C605.33,381.42 606.67,385.08 607.00,386.00" fill="none" stroke="#f2c418" stroke-width="1.2" stroke-linecap="round" filter="url(#eb05)"/>
<path d="M603.50,393.00 C603.75,393.50 604.75,395.50 605.00,396.00" fill="none" stroke="#1fe48f" stroke-width="1.0" stroke-linecap="round" filter="url(#eb05)"/>
<path d="M615.00,383.00 C615.33,383.67 616.67,386.33 617.00,387.00" fill="none" stroke="#1fe48f" stroke-width="1.0" stroke-linecap="round" filter="url(#eb05)"/>
<path d="M599.00,411.00 C598.92,412.50 598.58,418.50 598.50,420.00" fill="none" stroke="#1fe48f" stroke-width="1.4" stroke-linecap="round" filter="url(#eb05)"/>
<path d="M601.00,412.00 C600.92,413.00 600.58,417.00 600.50,418.00" fill="none" stroke="#f2c418" stroke-width="0.9" stroke-linecap="round" filter="url(#eb05)"/>
<path d="M606.00,406.00 C606.50,406.33 608.50,407.67 609.00,408.00" fill="none" stroke="#1fe48f" stroke-width="1.0" stroke-linecap="round" filter="url(#eb05)"/>
<path d="M583.00,426.00 C583.17,426.50 583.83,428.50 584.00,429.00" fill="none" stroke="#14b4d2" stroke-width="0.9" stroke-linecap="round" filter="url(#eb05)"/>
</g>
</g>
<path d="M597.75,368.60 C598.27,368.60 598.14,367.66 599.30,367.60 C600.46,367.54 602.75,367.66 604.73,368.26 C606.71,368.87 609.21,369.81 611.19,371.25 C613.17,372.69 615.07,374.52 616.62,376.90 C618.17,379.28 619.46,382.21 620.50,385.53 C621.53,388.85 622.39,393.16 622.82,396.82 C623.26,400.47 623.30,404.01 623.08,407.44 C622.87,410.87 622.44,414.30 621.53,417.40 C620.63,420.50 619.46,423.65 617.65,426.03 C615.85,428.41 613.13,430.40 610.67,431.68 C608.22,432.95 604.86,433.28 602.92,433.67 C600.98,434.06 599.90,434.11 599.04,434.00 C598.18,433.89 598.18,433.00 597.75,433.00 C597.32,433.00 597.32,433.89 596.46,434.00 C595.60,434.11 594.52,434.06 592.58,433.67 C590.64,433.28 587.28,432.95 584.83,431.68 C582.37,430.40 579.65,428.41 577.85,426.03 C576.04,423.65 574.87,420.50 573.97,417.40 C573.06,414.30 572.63,410.87 572.42,407.44 C572.20,404.01 572.24,400.47 572.68,396.82 C573.11,393.16 573.97,388.85 575.00,385.53 C576.04,382.21 577.33,379.28 578.88,376.90 C580.43,374.52 582.33,372.69 584.31,371.25 C586.29,369.81 588.79,368.87 590.77,368.26 C592.75,367.66 595.04,367.54 596.20,367.60 C597.36,367.66 597.23,368.60 597.75,368.60Z" fill="none" stroke="#111" stroke-width="1.8"/>
<clipPath id="eclip9"><path d="M653.35,368.60 C653.88,368.60 653.74,367.66 654.93,367.60 C656.11,367.54 658.42,367.66 660.44,368.26 C662.45,368.87 664.99,369.81 667.00,371.25 C669.01,372.69 670.94,374.52 672.51,376.90 C674.09,379.28 675.40,382.21 676.45,385.53 C677.50,388.85 678.38,393.16 678.81,396.82 C679.25,400.47 679.29,404.01 679.08,407.44 C678.86,410.87 678.42,414.30 677.50,417.40 C676.58,420.50 675.40,423.65 673.56,426.03 C671.73,428.41 668.97,430.40 666.48,431.68 C663.98,432.95 660.57,433.28 658.60,433.67 C656.63,434.06 655.54,434.11 654.66,434.00 C653.79,433.89 653.79,433.00 653.35,433.00 C652.91,433.00 652.91,433.89 652.04,434.00 C651.16,434.11 650.07,434.06 648.10,433.67 C646.13,433.28 642.72,432.95 640.23,431.68 C637.73,430.40 634.98,428.41 633.14,426.03 C631.30,423.65 630.12,420.50 629.20,417.40 C628.28,414.30 627.84,410.87 627.62,407.44 C627.41,404.01 627.45,400.47 627.89,396.82 C628.33,393.16 629.20,388.85 630.25,385.53 C631.30,382.21 632.61,379.28 634.19,376.90 C635.76,374.52 637.69,372.69 639.70,371.25 C641.71,369.81 644.25,368.87 646.26,368.26 C648.28,367.66 650.59,367.54 651.77,367.60 C652.96,367.66 652.83,368.60 653.35,368.60Z"/></clipPath>
<g clip-path="url(#eclip9)">
<rect x="625.1" y="365.6" width="56.5" height="70.39999999999998" fill="#ffffff"/>
<g filter="url(#eb08)"><ellipse cx="653.35" cy="400.80" rx="20.25" ry="31.20" fill="#0c0c0c"/>
<ellipse cx="653.35" cy="402" rx="18" ry="19" fill="#646464" filter="url(#eb2)"/>
<ellipse cx="643.35" cy="380" rx="10" ry="8" fill="#060606" filter="url(#eb2)"/>
<ellipse cx="663.35" cy="380" rx="10" ry="8" fill="#060606" filter="url(#eb2)"/>
<rect x="652.65" y="370" width="1.4" height="62" fill="#808080" filter="url(#eb09)"/>
<ellipse cx="645.35" cy="394" rx="5" ry="6" fill="#8a8a8a" filter="url(#eb1)"/>
<ellipse cx="661.35" cy="394" rx="5" ry="6" fill="#8a8a8a" filter="url(#eb1)"/>
<ellipse cx="638.35" cy="400" rx="3.5" ry="9" fill="#6a6a6a" filter="url(#eb1)"/>
<ellipse cx="668.35" cy="400" rx="3.5" ry="9" fill="#6a6a6a" filter="url(#eb1)"/>
<ellipse cx="642.35" cy="411" rx="5" ry="6" fill="#a0a0a0" filter="url(#eb1)"/>
<ellipse cx="663.35" cy="411" rx="5" ry="6" fill="#a0a0a0" filter="url(#eb1)"/>
<ellipse cx="633.35" cy="402" rx="2.5" ry="12" fill="#0c0c0c" filter="url(#eb1)"/>
<ellipse cx="673.35" cy="402" rx="2.5" ry="12" fill="#0c0c0c" filter="url(#eb1)"/>
<ellipse cx="644.35" cy="425" rx="8" ry="4" fill="#101010" filter="url(#eb2)"/>
<ellipse cx="662.35" cy="425" rx="8" ry="4" fill="#101010" filter="url(#eb2)"/>
<ellipse cx="653.35" cy="424" rx="2.5" ry="7" fill="#707070" filter="url(#eb1)"/>
</g>
<g filter="url(#eb05)" opacity="0.85">
<path d="M637.00,390.00 C637.25,390.83 638.33,393.67 638.50,395.00 C638.67,396.33 638.08,397.50 638.00,398.00" fill="none" stroke="#1fe48f" stroke-width="2.6" stroke-linecap="round" filter="url(#eb05)"/>
<path d="M642.00,390.00 C642.08,391.33 642.42,396.67 642.50,398.00" fill="none" stroke="#f2c418" stroke-width="0.9" stroke-linecap="round" filter="url(#eb05)"/>
<path d="M664.00,375.00 C664.67,376.00 666.58,378.92 668.00,381.00 C669.42,383.08 671.75,386.42 672.50,387.50" fill="none" stroke="#f2c418" stroke-width="1.6" stroke-linecap="round" filter="url(#eb05)"/>
<path d="M666.00,379.00 C666.67,380.00 669.33,384.00 670.00,385.00" fill="none" stroke="#1fe48f" stroke-width="1.0" stroke-linecap="round" filter="url(#eb05)"/>
<path d="M651.00,390.00 C651.08,390.50 651.42,392.50 651.50,393.00" fill="none" stroke="#1fe48f" stroke-width="1.0" stroke-linecap="round" filter="url(#eb05)"/>
<path d="M664.00,392.00 C664.25,393.00 665.17,396.17 665.50,398.00 C665.83,399.83 665.92,402.17 666.00,403.00" fill="none" stroke="#1fe48f" stroke-width="1.3" stroke-linecap="round" filter="url(#eb05)"/>
<path d="M656.50,414.00 C656.92,413.17 657.75,409.92 659.00,409.00 C660.25,408.08 662.83,408.00 664.00,408.50 C665.17,409.00 666.17,410.75 666.00,412.00 C665.83,413.25 663.50,415.33 663.00,416.00" fill="none" stroke="#1fe48f" stroke-width="2.4" stroke-linecap="round" filter="url(#eb05)"/>
<path d="M655.00,407.00 C654.92,408.33 654.00,413.17 654.50,415.00 C655.00,416.83 657.42,417.50 658.00,418.00" fill="none" stroke="#f2c418" stroke-width="0.9" stroke-linecap="round" filter="url(#eb05)"/>
<path d="M665.00,406.00 C665.50,407.00 667.83,410.17 668.00,412.00 C668.17,413.83 666.33,416.17 666.00,417.00" fill="none" stroke="#f2c418" stroke-width="0.9" stroke-linecap="round" filter="url(#eb05)"/>
<path d="M660.00,429.00 C661.00,428.17 663.92,425.67 666.00,424.00 C668.08,422.33 671.42,419.83 672.50,419.00" fill="none" stroke="#f2c418" stroke-width="1.4" stroke-linecap="round" filter="url(#eb05)"/>
<path d="M662.00,427.00 C663.17,426.08 667.83,422.42 669.00,421.50" fill="none" stroke="#1fe48f" stroke-width="0.8" stroke-linecap="round" filter="url(#eb05)"/>
<path d="M630.50,412.00 C630.75,412.83 631.75,416.17 632.00,417.00" fill="none" stroke="#14b4d2" stroke-width="0.9" stroke-linecap="round" filter="url(#eb05)"/>
</g>
</g>
<path d="M653.35,368.60 C653.88,368.60 653.74,367.66 654.93,367.60 C656.11,367.54 658.42,367.66 660.44,368.26 C662.45,368.87 664.99,369.81 667.00,371.25 C669.01,372.69 670.94,374.52 672.51,376.90 C674.09,379.28 675.40,382.21 676.45,385.53 C677.50,388.85 678.38,393.16 678.81,396.82 C679.25,400.47 679.29,404.01 679.08,407.44 C678.86,410.87 678.42,414.30 677.50,417.40 C676.58,420.50 675.40,423.65 673.56,426.03 C671.73,428.41 668.97,430.40 666.48,431.68 C663.98,432.95 660.57,433.28 658.60,433.67 C656.63,434.06 655.54,434.11 654.66,434.00 C653.79,433.89 653.79,433.00 653.35,433.00 C652.91,433.00 652.91,433.89 652.04,434.00 C651.16,434.11 650.07,434.06 648.10,433.67 C646.13,433.28 642.72,432.95 640.23,431.68 C637.73,430.40 634.98,428.41 633.14,426.03 C631.30,423.65 630.12,420.50 629.20,417.40 C628.28,414.30 627.84,410.87 627.62,407.44 C627.41,404.01 627.45,400.47 627.89,396.82 C628.33,393.16 629.20,388.85 630.25,385.53 C631.30,382.21 632.61,379.28 634.19,376.90 C635.76,374.52 637.69,372.69 639.70,371.25 C641.71,369.81 644.25,368.87 646.26,368.26 C648.28,367.66 650.59,367.54 651.77,367.60 C652.96,367.66 652.83,368.60 653.35,368.60Z" fill="none" stroke="#111" stroke-width="1.8"/>
<rect x="549" y="446.6" width="91.2" height="10.4" fill="url(#gradSW)"/>
<text x="529.5" y="463.4" font-size="8" text-anchor="middle" font-weight="normal" fill="#231f20" >−2<tspan font-family="Liberation Serif" font-style="italic">σ</tspan> (95%)</text>
<text x="591" y="466.6" font-size="8" text-anchor="middle" font-weight="normal" fill="#231f20" >Spatial weight</text>
<text x="660.3" y="463.4" font-size="8" text-anchor="middle" font-weight="normal" fill="#231f20" >+2<tspan font-family="Liberation Serif" font-style="italic">σ</tspan> (95%)</text>
</svg></body></html>
